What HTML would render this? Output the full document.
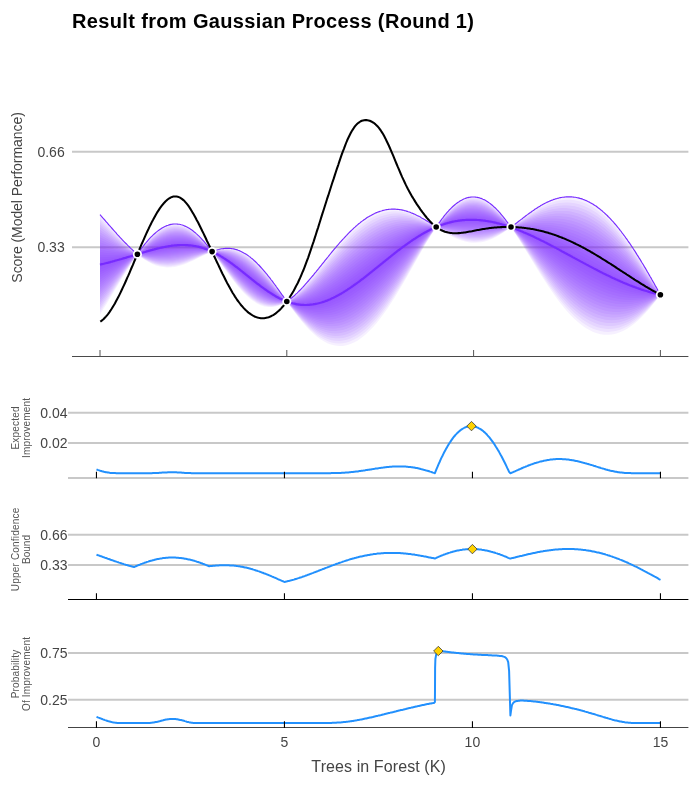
<!DOCTYPE html>
<html><head><meta charset="utf-8"><title>Result from Gaussian Process (Round 1)</title>
<style>html,body{margin:0;padding:0;background:#fff}body{width:700px;height:789px;position:relative;overflow:hidden}</style></head>
<body>
<svg width="700" height="789" viewBox="0 0 700 789" style="position:absolute;left:0;top:0">
<rect width="700" height="789" fill="#fff"/>
<line x1="72" x2="688.4" y1="151.8" y2="151.8" stroke="#c8c8c8" stroke-width="2"/>
<line x1="72" x2="688.4" y1="247.3" y2="247.3" stroke="#c8c8c8" stroke-width="2"/>
<g fill="#7e2eff" fill-opacity="0.069">
<path d="M100.0,262.2L103.7,261.5L107.5,260.8L111.2,260.1L114.9,259.4L118.7,258.6L122.4,257.7L126.2,256.9L129.9,256.0L133.6,255.1L137.4,254.2L141.1,252.9L144.8,251.6L148.6,250.3L152.3,249.2L156.0,248.1L159.8,247.0L163.5,246.2L167.2,245.4L171.0,244.8L174.7,244.4L178.5,244.1L182.2,244.0L185.9,244.1L189.7,244.5L193.4,245.1L197.1,245.9L200.9,247.0L204.6,248.3L208.3,249.8L212.1,251.6L215.8,253.3L219.6,255.2L223.3,257.3L227.0,259.7L230.8,262.1L234.5,264.8L238.2,267.6L242.0,270.4L245.7,273.4L249.4,276.3L253.2,279.3L256.9,282.3L260.6,285.2L264.4,288.0L268.1,290.7L271.9,293.3L275.6,295.6L279.3,297.8L283.1,299.8L286.8,301.5L290.5,302.6L294.3,303.3L298.0,303.8L301.7,304.0L305.5,303.9L309.2,303.6L313.0,302.9L316.7,302.1L320.4,300.9L324.2,299.6L327.9,298.0L331.6,296.3L335.4,294.3L339.1,292.2L342.8,289.9L346.6,287.5L350.3,285.0L354.0,282.3L357.8,279.6L361.5,276.8L365.3,273.9L369.0,271.0L372.7,268.1L376.5,265.2L380.2,262.2L383.9,259.3L387.7,256.4L391.4,253.5L395.1,250.7L398.9,248.0L402.6,245.3L406.4,242.8L410.1,240.3L413.8,238.0L417.6,235.8L421.3,233.7L425.0,231.8L428.8,230.1L432.5,228.5L436.2,227.0L440.0,225.3L443.7,223.8L447.4,222.5L451.2,221.4L454.9,220.5L458.7,219.7L462.4,219.2L466.1,218.8L469.9,218.7L473.6,218.7L477.3,218.8L481.1,219.2L484.8,219.7L488.5,220.4L492.3,221.2L496.0,222.1L499.8,223.2L503.5,224.4L507.2,225.8L511.3,227.3L514.7,228.4L518.4,229.6L522.2,230.9L525.9,232.3L529.6,233.7L533.4,235.3L537.1,236.8L540.8,238.5L544.6,240.1L548.3,241.9L552.1,243.7L555.8,245.5L559.5,247.3L563.3,249.2L567.0,251.1L570.7,253.1L574.5,255.0L578.2,257.0L581.9,259.0L585.7,260.9L589.4,262.9L593.2,264.9L596.9,266.9L600.6,268.8L604.4,270.8L608.1,272.7L611.8,274.6L615.6,276.4L619.3,278.3L623.0,280.0L626.8,281.8L630.5,283.5L634.2,285.1L638.0,286.7L641.7,288.2L645.5,289.6L649.2,291.0L652.9,292.3L656.7,293.6L660.4,294.7L660.4,294.7L656.7,294.1L652.9,293.5L649.2,292.7L645.5,291.9L641.7,290.9L638.0,289.9L634.2,288.8L630.5,287.6L626.8,286.3L623.0,284.9L619.3,283.4L615.6,281.9L611.8,280.3L608.1,278.6L604.4,276.9L600.6,275.1L596.9,273.2L593.2,271.3L589.4,269.3L585.7,267.3L581.9,265.3L578.2,263.2L574.5,261.1L570.7,259.0L567.0,256.9L563.3,254.7L559.5,252.5L555.8,250.4L552.1,248.2L548.3,246.1L544.6,244.0L540.8,241.9L537.1,239.9L533.4,237.9L529.6,235.9L525.9,234.0L522.2,232.2L518.4,230.5L514.7,228.8L511.3,227.4L507.2,226.2L503.5,225.2L499.8,224.3L496.0,223.5L492.3,222.8L488.5,222.3L484.8,221.8L481.1,221.4L477.3,221.1L473.6,221.0L469.9,220.9L466.1,221.0L462.4,221.3L458.7,221.6L454.9,222.1L451.2,222.8L447.4,223.6L443.7,224.6L440.0,225.7L436.2,227.0L432.5,228.9L428.8,230.9L425.0,233.1L421.3,235.4L417.6,237.9L413.8,240.6L410.1,243.3L406.4,246.1L402.6,249.0L398.9,252.0L395.1,255.1L391.4,258.2L387.7,261.3L383.9,264.4L380.2,267.6L376.5,270.7L372.7,273.8L369.0,276.8L365.3,279.7L361.5,282.6L357.8,285.4L354.0,288.1L350.3,290.6L346.6,293.0L342.8,295.3L339.1,297.3L335.4,299.2L331.6,300.9L327.9,302.4L324.2,303.6L320.4,304.6L316.7,305.3L313.0,305.8L309.2,306.1L305.5,306.0L301.7,305.7L298.0,305.0L294.3,304.1L290.5,303.0L286.8,301.5L283.1,300.2L279.3,298.6L275.6,296.7L271.9,294.6L268.1,292.3L264.4,289.8L260.6,287.1L256.9,284.3L253.2,281.4L249.4,278.4L245.7,275.4L242.0,272.4L238.2,269.4L234.5,266.4L230.8,263.6L227.0,260.8L223.3,258.3L219.6,255.8L215.8,253.6L212.1,251.6L208.3,250.1L204.6,248.9L200.9,247.9L197.1,247.1L193.4,246.5L189.7,246.2L185.9,246.0L182.2,246.0L178.5,246.2L174.7,246.5L171.0,246.9L167.2,247.5L163.5,248.2L159.8,248.9L156.0,249.7L152.3,250.6L148.6,251.4L144.8,252.4L141.1,253.3L137.4,254.2L133.6,255.6L129.9,256.9L126.2,258.3L122.4,259.6L118.7,261.0L114.9,262.3L111.2,263.5L107.5,264.8L103.7,266.0L100.0,267.2Z"/>
<path d="M100.0,259.7L103.7,259.3L107.5,258.9L111.2,258.4L114.9,257.9L118.7,257.4L122.4,256.8L126.2,256.2L129.9,255.6L133.6,254.9L137.4,254.2L141.1,252.7L144.8,251.2L148.6,249.8L152.3,248.4L156.0,247.2L159.8,246.1L163.5,245.2L167.2,244.4L171.0,243.7L174.7,243.3L178.5,243.0L182.2,243.0L185.9,243.2L189.7,243.7L193.4,244.3L197.1,245.3L200.9,246.5L204.6,247.9L208.3,249.7L212.1,251.6L215.8,253.1L219.6,254.9L223.3,256.9L227.0,259.1L230.8,261.4L234.5,264.0L238.2,266.6L242.0,269.4L245.7,272.3L249.4,275.3L253.2,278.3L256.9,281.3L260.6,284.2L264.4,287.1L268.1,289.9L271.9,292.6L275.6,295.1L279.3,297.5L283.1,299.6L286.8,301.5L290.5,302.4L294.3,302.9L298.0,303.2L301.7,303.2L305.5,302.9L309.2,302.3L313.0,301.5L316.7,300.4L320.4,299.1L324.2,297.6L327.9,295.9L331.6,294.0L335.4,291.9L339.1,289.6L342.8,287.3L346.6,284.8L350.3,282.2L354.0,279.5L357.8,276.7L361.5,273.9L365.3,271.0L369.0,268.2L372.7,265.3L376.5,262.4L380.2,259.5L383.9,256.7L387.7,253.9L391.4,251.2L395.1,248.5L398.9,246.0L402.6,243.5L406.4,241.1L410.1,238.9L413.8,236.7L417.6,234.8L421.3,232.9L425.0,231.2L428.8,229.6L432.5,228.2L436.2,227.0L440.0,225.1L443.7,223.4L447.4,222.0L451.2,220.7L454.9,219.6L458.7,218.8L462.4,218.2L466.1,217.8L469.9,217.5L473.6,217.5L477.3,217.7L481.1,218.1L484.8,218.7L488.5,219.4L492.3,220.3L496.0,221.4L499.8,222.7L503.5,224.1L507.2,225.6L511.3,227.3L514.7,228.2L518.4,229.2L522.2,230.3L525.9,231.4L529.6,232.7L533.4,233.9L537.1,235.3L540.8,236.7L544.6,238.2L548.3,239.8L552.1,241.4L555.8,243.0L559.5,244.7L563.3,246.5L567.0,248.3L570.7,250.1L574.5,252.0L578.2,253.9L581.9,255.8L585.7,257.8L589.4,259.7L593.2,261.7L596.9,263.7L600.6,265.7L604.4,267.7L608.1,269.7L611.8,271.7L615.6,273.7L619.3,275.7L623.0,277.6L626.8,279.5L630.5,281.4L634.2,283.3L638.0,285.1L641.7,286.8L645.5,288.5L649.2,290.2L652.9,291.8L656.7,293.3L660.4,294.7L660.4,294.7L656.7,294.4L652.9,294.1L649.2,293.6L645.5,293.0L641.7,292.3L638.0,291.5L634.2,290.6L630.5,289.6L626.8,288.5L623.0,287.3L619.3,286.0L615.6,284.6L611.8,283.1L608.1,281.6L604.4,279.9L600.6,278.2L596.9,276.4L593.2,274.5L589.4,272.5L585.7,270.5L581.9,268.4L578.2,266.3L574.5,264.2L570.7,262.0L567.0,259.7L563.3,257.4L559.5,255.2L555.8,252.8L552.1,250.5L548.3,248.2L544.6,245.9L540.8,243.7L537.1,241.4L533.4,239.2L529.6,237.0L525.9,234.9L522.2,232.9L518.4,230.9L514.7,229.0L511.3,227.4L507.2,226.4L503.5,225.6L499.8,224.9L496.0,224.2L492.3,223.7L488.5,223.2L484.8,222.8L481.1,222.5L477.3,222.2L473.6,222.1L469.9,222.1L466.1,222.1L462.4,222.3L458.7,222.6L454.9,223.0L451.2,223.5L447.4,224.2L443.7,225.0L440.0,225.9L436.2,227.0L432.5,229.1L428.8,231.3L425.0,233.7L421.3,236.3L417.6,239.0L413.8,241.8L410.1,244.8L406.4,247.8L402.6,250.9L398.9,254.1L395.1,257.3L391.4,260.5L387.7,263.8L383.9,267.0L380.2,270.3L376.5,273.4L372.7,276.6L369.0,279.7L365.3,282.6L361.5,285.5L357.8,288.3L354.0,290.9L350.3,293.4L346.6,295.8L342.8,297.9L339.1,299.9L335.4,301.6L331.6,303.2L327.9,304.5L324.2,305.6L320.4,306.4L316.7,307.0L313.0,307.3L309.2,307.3L305.5,307.0L301.7,306.5L298.0,305.7L294.3,304.5L290.5,303.2L286.8,301.5L283.1,300.3L279.3,298.9L275.6,297.2L271.9,295.2L268.1,293.0L264.4,290.6L260.6,288.0L256.9,285.3L253.2,282.4L249.4,279.4L245.7,276.4L242.0,273.3L238.2,270.3L234.5,267.3L230.8,264.3L227.0,261.4L223.3,258.7L219.6,256.2L215.8,253.8L212.1,251.6L208.3,250.3L204.6,249.2L200.9,248.4L197.1,247.7L193.4,247.3L189.7,247.0L185.9,246.9L182.2,247.0L178.5,247.2L174.7,247.6L171.0,248.0L167.2,248.6L163.5,249.2L159.8,249.8L156.0,250.5L152.3,251.3L148.6,252.0L144.8,252.7L141.1,253.5L137.4,254.2L133.6,255.8L129.9,257.4L126.2,259.0L122.4,260.6L118.7,262.1L114.9,263.7L111.2,265.3L107.5,266.8L103.7,268.2L100.0,269.7Z"/>
<path d="M100.0,257.2L103.7,257.0L107.5,256.9L111.2,256.7L114.9,256.4L118.7,256.2L122.4,255.9L126.2,255.5L129.9,255.1L133.6,254.7L137.4,254.2L141.1,252.5L144.8,250.8L148.6,249.2L152.3,247.7L156.0,246.4L159.8,245.2L163.5,244.2L167.2,243.3L171.0,242.7L174.7,242.2L178.5,242.0L182.2,242.0L185.9,242.3L189.7,242.8L193.4,243.6L197.1,244.7L200.9,246.0L204.6,247.6L208.3,249.5L212.1,251.6L215.8,253.0L219.6,254.6L223.3,256.4L227.0,258.5L230.8,260.7L234.5,263.1L238.2,265.7L242.0,268.5L245.7,271.3L249.4,274.3L253.2,277.2L256.9,280.3L260.6,283.3L264.4,286.2L268.1,289.1L271.9,291.9L275.6,294.6L279.3,297.1L283.1,299.4L286.8,301.5L290.5,302.2L294.3,302.5L298.0,302.6L301.7,302.4L305.5,301.9L309.2,301.1L313.0,300.1L316.7,298.8L320.4,297.3L324.2,295.6L327.9,293.7L331.6,291.6L335.4,289.4L339.1,287.1L342.8,284.6L346.6,282.0L350.3,279.3L354.0,276.6L357.8,273.8L361.5,271.0L365.3,268.1L369.0,265.3L372.7,262.4L376.5,259.6L380.2,256.8L383.9,254.1L387.7,251.4L391.4,248.8L395.1,246.3L398.9,243.9L402.6,241.6L406.4,239.4L410.1,237.4L413.8,235.5L417.6,233.7L421.3,232.1L425.0,230.6L428.8,229.2L432.5,228.0L436.2,227.0L440.0,224.9L443.7,223.1L447.4,221.4L451.2,220.0L454.9,218.8L458.7,217.9L462.4,217.1L466.1,216.7L469.9,216.4L473.6,216.4L477.3,216.6L481.1,217.0L484.8,217.6L488.5,218.5L492.3,219.5L496.0,220.7L499.8,222.1L503.5,223.7L507.2,225.4L511.3,227.3L514.7,228.0L518.4,228.8L522.2,229.6L525.9,230.6L529.6,231.6L533.4,232.6L537.1,233.8L540.8,235.0L544.6,236.3L548.3,237.7L552.1,239.1L555.8,240.6L559.5,242.1L563.3,243.7L567.0,245.4L570.7,247.2L574.5,248.9L578.2,250.8L581.9,252.6L585.7,254.6L589.4,256.5L593.2,258.5L596.9,260.6L600.6,262.6L604.4,264.7L608.1,266.8L611.8,268.9L615.6,271.0L619.3,273.1L623.0,275.2L626.8,277.3L630.5,279.4L634.2,281.4L638.0,283.5L641.7,285.5L645.5,287.4L649.2,289.3L652.9,291.2L656.7,293.0L660.4,294.7L660.4,294.7L656.7,294.7L652.9,294.6L649.2,294.4L645.5,294.1L641.7,293.7L638.0,293.1L634.2,292.5L630.5,291.7L626.8,290.8L623.0,289.7L619.3,288.6L615.6,287.3L611.8,286.0L608.1,284.5L604.4,283.0L600.6,281.3L596.9,279.5L593.2,277.7L589.4,275.7L585.7,273.7L581.9,271.6L578.2,269.4L574.5,267.2L570.7,264.9L567.0,262.6L563.3,260.2L559.5,257.8L555.8,255.3L552.1,252.8L548.3,250.3L544.6,247.9L540.8,245.4L537.1,242.9L533.4,240.5L529.6,238.1L525.9,235.8L522.2,233.5L518.4,231.3L514.7,229.2L511.3,227.4L507.2,226.6L503.5,226.0L499.8,225.4L496.0,225.0L492.3,224.5L488.5,224.1L484.8,223.8L481.1,223.6L477.3,223.4L473.6,223.2L469.9,223.2L466.1,223.2L462.4,223.3L458.7,223.5L454.9,223.8L451.2,224.2L447.4,224.7L443.7,225.3L440.0,226.1L436.2,227.0L432.5,229.3L428.8,231.7L425.0,234.4L421.3,237.1L417.6,240.1L413.8,243.1L410.1,246.2L406.4,249.5L402.6,252.8L398.9,256.1L395.1,259.5L391.4,262.9L387.7,266.2L383.9,269.6L380.2,272.9L376.5,276.2L372.7,279.4L369.0,282.5L365.3,285.5L361.5,288.4L357.8,291.2L354.0,293.8L350.3,296.2L346.6,298.5L342.8,300.6L339.1,302.4L335.4,304.1L331.6,305.5L327.9,306.7L324.2,307.6L320.4,308.2L316.7,308.6L313.0,308.7L309.2,308.5L305.5,308.1L301.7,307.3L298.0,306.3L294.3,304.9L290.5,303.4L286.8,301.5L283.1,300.5L279.3,299.3L275.6,297.7L271.9,295.9L268.1,293.8L264.4,291.5L260.6,289.0L256.9,286.3L253.2,283.5L249.4,280.5L245.7,277.4L242.0,274.3L238.2,271.2L234.5,268.1L230.8,265.0L227.0,262.0L223.3,259.2L219.6,256.5L215.8,253.9L212.1,251.6L208.3,250.5L204.6,249.5L200.9,248.8L197.1,248.3L193.4,248.0L189.7,247.9L185.9,247.9L182.2,248.0L178.5,248.3L174.7,248.6L171.0,249.1L167.2,249.6L163.5,250.2L159.8,250.7L156.0,251.4L152.3,252.0L148.6,252.6L144.8,253.1L141.1,253.7L137.4,254.2L133.6,256.0L129.9,257.8L126.2,259.7L122.4,261.5L118.7,263.3L114.9,265.2L111.2,267.0L107.5,268.7L103.7,270.5L100.0,272.2Z"/>
<path d="M100.0,254.7L103.7,254.8L107.5,254.9L111.2,255.0L114.9,255.0L118.7,255.0L122.4,254.9L126.2,254.8L129.9,254.7L133.6,254.5L137.4,254.2L141.1,252.3L144.8,250.4L148.6,248.7L152.3,247.0L156.0,245.6L159.8,244.3L163.5,243.2L167.2,242.3L171.0,241.6L174.7,241.1L178.5,240.9L182.2,241.0L185.9,241.4L189.7,242.0L193.4,242.9L197.1,244.1L200.9,245.6L204.6,247.3L208.3,249.3L212.1,251.6L215.8,252.8L219.6,254.3L223.3,255.9L227.0,257.9L230.8,260.0L234.5,262.3L238.2,264.8L242.0,267.5L245.7,270.3L249.4,273.2L253.2,276.2L256.9,279.3L260.6,282.3L264.4,285.4L268.1,288.4L271.9,291.3L275.6,294.1L279.3,296.7L283.1,299.2L286.8,301.5L290.5,302.0L294.3,302.1L298.0,302.0L301.7,301.5L305.5,300.8L309.2,299.8L313.0,298.6L316.7,297.1L320.4,295.5L324.2,293.6L327.9,291.5L331.6,289.3L335.4,287.0L339.1,284.5L342.8,281.9L346.6,279.3L350.3,276.5L354.0,273.7L357.8,270.9L361.5,268.1L365.3,265.2L369.0,262.4L372.7,259.6L376.5,256.9L380.2,254.2L383.9,251.5L387.7,249.0L391.4,246.5L395.1,244.1L398.9,241.9L402.6,239.8L406.4,237.8L410.1,235.9L413.8,234.2L417.6,232.6L421.3,231.2L425.0,229.9L428.8,228.8L432.5,227.8L436.2,227.0L440.0,224.7L443.7,222.7L447.4,220.9L451.2,219.3L454.9,218.0L458.7,216.9L462.4,216.1L466.1,215.6L469.9,215.3L473.6,215.2L477.3,215.5L481.1,215.9L484.8,216.6L488.5,217.5L492.3,218.7L496.0,220.0L499.8,221.6L503.5,223.3L507.2,225.2L511.3,227.3L514.7,227.8L518.4,228.3L522.2,229.0L525.9,229.7L529.6,230.5L533.4,231.3L537.1,232.3L540.8,233.3L544.6,234.4L548.3,235.5L552.1,236.8L555.8,238.1L559.5,239.5L563.3,241.0L567.0,242.6L570.7,244.2L574.5,245.9L578.2,247.7L581.9,249.5L585.7,251.4L589.4,253.3L593.2,255.3L596.9,257.4L600.6,259.5L604.4,261.6L608.1,263.8L611.8,266.0L615.6,268.2L619.3,270.5L623.0,272.8L626.8,275.0L630.5,277.3L634.2,279.6L638.0,281.8L641.7,284.1L645.5,286.3L649.2,288.5L652.9,290.6L656.7,292.7L660.4,294.7L660.4,294.7L656.7,295.0L652.9,295.2L649.2,295.3L645.5,295.2L641.7,295.0L638.0,294.7L634.2,294.3L630.5,293.7L626.8,293.0L623.0,292.2L619.3,291.2L615.6,290.1L611.8,288.8L608.1,287.5L604.4,286.0L600.6,284.4L596.9,282.7L593.2,280.9L589.4,278.9L585.7,276.9L581.9,274.8L578.2,272.5L574.5,270.2L570.7,267.9L567.0,265.4L563.3,262.9L559.5,260.4L555.8,257.8L552.1,255.1L548.3,252.5L544.6,249.8L540.8,247.1L537.1,244.4L533.4,241.8L529.6,239.2L525.9,236.6L522.2,234.1L518.4,231.7L514.7,229.4L511.3,227.4L507.2,226.8L503.5,226.4L499.8,226.0L496.0,225.7L492.3,225.4L488.5,225.1L484.8,224.9L481.1,224.7L477.3,224.5L473.6,224.4L469.9,224.3L466.1,224.3L462.4,224.3L458.7,224.4L454.9,224.6L451.2,224.9L447.4,225.3L443.7,225.7L440.0,226.3L436.2,227.0L432.5,229.5L428.8,232.1L425.0,235.0L421.3,238.0L417.6,241.1L413.8,244.4L410.1,247.7L406.4,251.1L402.6,254.6L398.9,258.1L395.1,261.7L391.4,265.2L387.7,268.7L383.9,272.2L380.2,275.6L376.5,279.0L372.7,282.2L369.0,285.4L365.3,288.4L361.5,291.3L357.8,294.1L354.0,296.7L350.3,299.1L346.6,301.3L342.8,303.2L339.1,305.0L335.4,306.5L331.6,307.8L327.9,308.8L324.2,309.6L320.4,310.1L316.7,310.3L313.0,310.2L309.2,309.8L305.5,309.1L301.7,308.1L298.0,306.9L294.3,305.3L290.5,303.5L286.8,301.5L283.1,300.7L279.3,299.6L275.6,298.2L271.9,296.6L268.1,294.6L264.4,292.4L260.6,290.0L256.9,287.3L253.2,284.5L249.4,281.5L245.7,278.5L242.0,275.3L238.2,272.1L234.5,268.9L230.8,265.7L227.0,262.6L223.3,259.6L219.6,256.8L215.8,254.1L212.1,251.6L208.3,250.6L204.6,249.8L200.9,249.3L197.1,248.9L193.4,248.7L189.7,248.7L185.9,248.8L182.2,249.0L178.5,249.3L174.7,249.7L171.0,250.2L167.2,250.6L163.5,251.2L159.8,251.7L156.0,252.2L152.3,252.7L148.6,253.1L144.8,253.5L141.1,253.9L137.4,254.2L133.6,256.2L129.9,258.3L126.2,260.3L122.4,262.4L118.7,264.5L114.9,266.6L111.2,268.7L107.5,270.7L103.7,272.7L100.0,274.7Z"/>
<path d="M100.0,252.2L103.7,252.6L107.5,252.9L111.2,253.2L114.9,253.5L118.7,253.8L122.4,254.0L126.2,254.1L129.9,254.2L133.6,254.2L137.4,254.2L141.1,252.1L144.8,250.0L148.6,248.1L152.3,246.3L156.0,244.7L159.8,243.4L163.5,242.2L167.2,241.2L171.0,240.5L174.7,240.1L178.5,239.9L182.2,240.0L185.9,240.4L189.7,241.1L193.4,242.2L197.1,243.5L200.9,245.1L204.6,247.0L208.3,249.2L212.1,251.6L215.8,252.7L219.6,254.0L223.3,255.5L227.0,257.3L230.8,259.3L234.5,261.5L238.2,263.9L242.0,266.5L245.7,269.3L249.4,272.2L253.2,275.2L256.9,278.2L260.6,281.4L264.4,284.5L268.1,287.6L271.9,290.6L275.6,293.6L279.3,296.4L283.1,299.0L286.8,301.5L290.5,301.8L294.3,301.7L298.0,301.4L301.7,300.7L305.5,299.8L309.2,298.6L313.0,297.2L316.7,295.5L320.4,293.6L324.2,291.6L327.9,289.4L331.6,287.0L335.4,284.5L339.1,281.9L342.8,279.3L346.6,276.5L350.3,273.7L354.0,270.9L357.8,268.0L361.5,265.2L365.3,262.3L369.0,259.5L372.7,256.8L376.5,254.1L380.2,251.5L383.9,248.9L387.7,246.5L391.4,244.2L395.1,242.0L398.9,239.9L402.6,237.9L406.4,236.1L410.1,234.4L413.8,232.9L417.6,231.6L421.3,230.4L425.0,229.3L428.8,228.4L432.5,227.6L436.2,227.0L440.0,224.5L443.7,222.3L447.4,220.3L451.2,218.6L454.9,217.2L458.7,216.0L462.4,215.1L466.1,214.5L469.9,214.2L473.6,214.1L477.3,214.3L481.1,214.8L484.8,215.6L488.5,216.6L492.3,217.8L496.0,219.3L499.8,221.0L503.5,222.9L507.2,225.0L511.3,227.3L514.7,227.6L518.4,227.9L522.2,228.3L525.9,228.8L529.6,229.4L533.4,230.0L537.1,230.7L540.8,231.5L544.6,232.4L548.3,233.4L552.1,234.5L555.8,235.7L559.5,236.9L563.3,238.3L567.0,239.7L570.7,241.2L574.5,242.8L578.2,244.5L581.9,246.3L585.7,248.2L589.4,250.1L593.2,252.1L596.9,254.2L600.6,256.4L604.4,258.6L608.1,260.8L611.8,263.2L615.6,265.5L619.3,267.9L623.0,270.3L626.8,272.8L630.5,275.3L634.2,277.8L638.0,280.2L641.7,282.7L645.5,285.2L649.2,287.6L652.9,290.0L656.7,292.4L660.4,294.7L660.4,294.7L656.7,295.3L652.9,295.8L649.2,296.1L645.5,296.3L641.7,296.4L638.0,296.3L634.2,296.1L630.5,295.8L626.8,295.2L623.0,294.6L619.3,293.8L615.6,292.8L611.8,291.7L608.1,290.4L604.4,289.0L600.6,287.5L596.9,285.8L593.2,284.0L589.4,282.1L585.7,280.1L581.9,277.9L578.2,275.7L574.5,273.3L570.7,270.8L567.0,268.3L563.3,265.7L559.5,263.0L555.8,260.2L552.1,257.4L548.3,254.6L544.6,251.7L540.8,248.8L537.1,246.0L533.4,243.1L529.6,240.3L525.9,237.5L522.2,234.8L518.4,232.2L514.7,229.6L511.3,227.5L507.2,227.0L503.5,226.8L499.8,226.5L496.0,226.4L492.3,226.2L488.5,226.0L484.8,225.9L481.1,225.8L477.3,225.6L473.6,225.5L469.9,225.4L466.1,225.4L462.4,225.4L458.7,225.4L454.9,225.5L451.2,225.6L447.4,225.8L443.7,226.1L440.0,226.5L436.2,227.0L432.5,229.7L428.8,232.6L425.0,235.6L421.3,238.8L417.6,242.2L413.8,245.6L410.1,249.2L406.4,252.8L402.6,256.5L398.9,260.1L395.1,263.8L391.4,267.5L387.7,271.2L383.9,274.8L380.2,278.3L376.5,281.7L372.7,285.1L369.0,288.3L365.3,291.3L361.5,294.2L357.8,297.0L354.0,299.5L350.3,301.9L346.6,304.0L342.8,305.9L339.1,307.6L335.4,309.0L331.6,310.1L327.9,311.0L324.2,311.6L320.4,311.9L316.7,311.9L313.0,311.6L309.2,311.0L305.5,310.1L301.7,309.0L298.0,307.5L294.3,305.8L290.5,303.7L286.8,301.5L283.1,300.9L279.3,300.0L275.6,298.8L271.9,297.2L268.1,295.4L264.4,293.3L260.6,290.9L256.9,288.3L253.2,285.5L249.4,282.6L245.7,279.5L242.0,276.3L238.2,273.0L234.5,269.7L230.8,266.5L227.0,263.2L223.3,260.1L219.6,257.1L215.8,254.3L212.1,251.6L208.3,250.8L204.6,250.2L200.9,249.8L197.1,249.5L193.4,249.5L189.7,249.5L185.9,249.7L182.2,250.0L178.5,250.4L174.7,250.8L171.0,251.2L167.2,251.7L163.5,252.2L159.8,252.6L156.0,253.0L152.3,253.4L148.6,253.7L144.8,253.9L141.1,254.1L137.4,254.2L133.6,256.4L129.9,258.7L126.2,261.0L122.4,263.4L118.7,265.7L114.9,268.1L111.2,270.4L107.5,272.7L103.7,275.0L100.0,277.2Z"/>
<path d="M100.0,249.7L103.7,250.3L107.5,250.9L111.2,251.5L114.9,252.1L118.7,252.6L122.4,253.0L126.2,253.4L129.9,253.8L133.6,254.0L137.4,254.2L141.1,251.9L144.8,249.6L148.6,247.5L152.3,245.6L156.0,243.9L159.8,242.4L163.5,241.2L167.2,240.2L171.0,239.4L174.7,239.0L178.5,238.8L182.2,239.0L185.9,239.5L189.7,240.3L193.4,241.4L197.1,242.9L200.9,244.6L204.6,246.7L208.3,249.0L212.1,251.6L215.8,252.5L219.6,253.6L223.3,255.0L227.0,256.7L230.8,258.5L234.5,260.7L238.2,263.0L242.0,265.5L245.7,268.3L249.4,271.1L253.2,274.1L256.9,277.2L260.6,280.4L264.4,283.6L268.1,286.8L271.9,290.0L275.6,293.0L279.3,296.0L283.1,298.8L286.8,301.5L290.5,301.6L294.3,301.3L298.0,300.7L301.7,299.9L305.5,298.7L309.2,297.4L313.0,295.7L316.7,293.9L320.4,291.8L324.2,289.6L327.9,287.2L331.6,284.7L335.4,282.1L339.1,279.4L342.8,276.6L346.6,273.8L350.3,270.9L354.0,268.0L357.8,265.1L361.5,262.3L365.3,259.5L369.0,256.7L372.7,254.0L376.5,251.3L380.2,248.8L383.9,246.4L387.7,244.0L391.4,241.8L395.1,239.8L398.9,237.8L402.6,236.1L406.4,234.4L410.1,233.0L413.8,231.7L417.6,230.5L421.3,229.5L425.0,228.7L428.8,228.0L432.5,227.4L436.2,227.0L440.0,224.3L443.7,221.9L447.4,219.8L451.2,217.9L454.9,216.3L458.7,215.0L462.4,214.1L466.1,213.4L469.9,213.0L473.6,213.0L477.3,213.2L481.1,213.7L484.8,214.5L488.5,215.6L492.3,217.0L496.0,218.6L499.8,220.5L503.5,222.5L507.2,224.8L511.3,227.3L514.7,227.3L518.4,227.5L522.2,227.7L525.9,228.0L529.6,228.3L533.4,228.7L537.1,229.2L540.8,229.8L544.6,230.5L548.3,231.3L552.1,232.2L555.8,233.2L559.5,234.3L563.3,235.5L567.0,236.8L570.7,238.3L574.5,239.8L578.2,241.4L581.9,243.2L585.7,245.0L589.4,246.9L593.2,249.0L596.9,251.1L600.6,253.3L604.4,255.5L608.1,257.9L611.8,260.3L615.6,262.8L619.3,265.3L623.0,267.9L626.8,270.6L630.5,273.2L634.2,275.9L638.0,278.6L641.7,281.3L645.5,284.1L649.2,286.8L652.9,289.4L656.7,292.1L660.4,294.7L660.4,294.7L656.7,295.6L652.9,296.4L649.2,297.0L645.5,297.5L641.7,297.8L638.0,298.0L634.2,298.0L630.5,297.8L626.8,297.5L623.0,297.0L619.3,296.4L615.6,295.5L611.8,294.5L608.1,293.4L604.4,292.1L600.6,290.6L596.9,289.0L593.2,287.2L589.4,285.3L585.7,283.3L581.9,281.1L578.2,278.8L574.5,276.3L570.7,273.8L567.0,271.1L563.3,268.4L559.5,265.6L555.8,262.7L552.1,259.7L548.3,256.7L544.6,253.6L540.8,250.6L537.1,247.5L533.4,244.4L529.6,241.4L525.9,238.4L522.2,235.4L518.4,232.6L514.7,229.9L511.3,227.5L507.2,227.2L503.5,227.1L499.8,227.1L496.0,227.1L492.3,227.0L488.5,227.0L484.8,226.9L481.1,226.8L477.3,226.8L473.6,226.7L469.9,226.6L466.1,226.5L462.4,226.4L458.7,226.3L454.9,226.3L451.2,226.3L447.4,226.3L443.7,226.5L440.0,226.7L436.2,227.0L432.5,229.9L428.8,233.0L425.0,236.3L421.3,239.7L417.6,243.2L413.8,246.9L410.1,250.7L406.4,254.5L402.6,258.3L398.9,262.2L395.1,266.0L391.4,269.9L387.7,273.6L383.9,277.4L380.2,281.0L376.5,284.5L372.7,287.9L369.0,291.1L365.3,294.2L361.5,297.1L357.8,299.9L354.0,302.4L350.3,304.7L346.6,306.8L342.8,308.6L339.1,310.1L335.4,311.4L331.6,312.4L327.9,313.2L324.2,313.6L320.4,313.7L316.7,313.5L313.0,313.1L309.2,312.3L305.5,311.2L301.7,309.8L298.0,308.1L294.3,306.2L290.5,303.9L286.8,301.5L283.1,301.1L279.3,300.4L275.6,299.3L271.9,297.9L268.1,296.2L264.4,294.2L260.6,291.9L256.9,289.3L253.2,286.6L249.4,283.6L245.7,280.5L242.0,277.3L238.2,273.9L234.5,270.6L230.8,267.2L227.0,263.8L223.3,260.6L219.6,257.4L215.8,254.4L212.1,251.6L208.3,250.9L204.6,250.5L200.9,250.2L197.1,250.1L193.4,250.2L189.7,250.4L185.9,250.7L182.2,251.0L178.5,251.4L174.7,251.9L171.0,252.3L167.2,252.7L163.5,253.2L159.8,253.5L156.0,253.8L152.3,254.1L148.6,254.2L144.8,254.3L141.1,254.3L137.4,254.2L133.6,256.6L129.9,259.2L126.2,261.7L122.4,264.3L118.7,266.9L114.9,269.5L111.2,272.1L107.5,274.7L103.7,277.2L100.0,279.7Z"/>
<path d="M100.0,247.2L103.7,248.1L107.5,249.0L111.2,249.8L114.9,250.6L118.7,251.4L122.4,252.1L126.2,252.7L129.9,253.3L133.6,253.8L137.4,254.2L141.1,251.6L144.8,249.2L148.6,247.0L152.3,244.9L156.0,243.1L159.8,241.5L163.5,240.2L167.2,239.1L171.0,238.4L174.7,237.9L178.5,237.8L182.2,238.0L185.9,238.6L189.7,239.5L193.4,240.7L197.1,242.3L200.9,244.2L204.6,246.4L208.3,248.9L212.1,251.6L215.8,252.3L219.6,253.3L223.3,254.6L227.0,256.1L230.8,257.8L234.5,259.8L238.2,262.1L242.0,264.6L245.7,267.2L249.4,270.1L253.2,273.1L256.9,276.2L260.6,279.4L264.4,282.7L268.1,286.0L271.9,289.3L275.6,292.5L279.3,295.7L283.1,298.7L286.8,301.5L290.5,301.4L294.3,300.9L298.0,300.1L301.7,299.1L305.5,297.7L309.2,296.1L313.0,294.3L316.7,292.2L320.4,290.0L324.2,287.6L327.9,285.1L331.6,282.4L335.4,279.7L339.1,276.8L342.8,273.9L346.6,271.0L350.3,268.1L354.0,265.2L357.8,262.2L361.5,259.4L365.3,256.6L369.0,253.8L372.7,251.1L376.5,248.6L380.2,246.1L383.9,243.8L387.7,241.6L391.4,239.5L395.1,237.6L398.9,235.8L402.6,234.2L406.4,232.8L410.1,231.5L413.8,230.4L417.6,229.4L421.3,228.7L425.0,228.0L428.8,227.6L432.5,227.2L436.2,227.0L440.0,224.1L443.7,221.5L447.4,219.2L451.2,217.2L454.9,215.5L458.7,214.1L462.4,213.0L466.1,212.3L469.9,211.9L473.6,211.8L477.3,212.1L481.1,212.6L484.8,213.5L488.5,214.7L492.3,216.2L496.0,217.9L499.8,219.9L503.5,222.1L507.2,224.6L511.3,227.2L514.7,227.1L518.4,227.1L522.2,227.0L525.9,227.1L529.6,227.2L533.4,227.4L537.1,227.7L540.8,228.1L544.6,228.6L548.3,229.2L552.1,229.9L555.8,230.8L559.5,231.7L563.3,232.8L567.0,234.0L570.7,235.3L574.5,236.8L578.2,238.3L581.9,240.0L585.7,241.8L589.4,243.7L593.2,245.8L596.9,247.9L600.6,250.1L604.4,252.5L608.1,254.9L611.8,257.5L615.6,260.1L619.3,262.7L623.0,265.5L626.8,268.3L630.5,271.2L634.2,274.1L638.0,277.0L641.7,280.0L645.5,282.9L649.2,285.9L652.9,288.9L656.7,291.8L660.4,294.7L660.4,294.7L656.7,295.9L652.9,296.9L649.2,297.8L645.5,298.6L641.7,299.2L638.0,299.6L634.2,299.8L630.5,299.9L626.8,299.7L623.0,299.4L619.3,298.9L615.6,298.3L611.8,297.4L608.1,296.4L604.4,295.1L600.6,293.7L596.9,292.2L593.2,290.4L589.4,288.5L585.7,286.5L581.9,284.2L578.2,281.9L574.5,279.4L570.7,276.8L567.0,274.0L563.3,271.1L559.5,268.2L555.8,265.1L552.1,262.0L548.3,258.8L544.6,255.6L540.8,252.3L537.1,249.0L533.4,245.7L529.6,242.5L525.9,239.2L522.2,236.1L518.4,233.0L514.7,230.1L511.3,227.5L507.2,227.4L503.5,227.5L499.8,227.7L496.0,227.8L492.3,227.9L488.5,227.9L484.8,227.9L481.1,227.9L477.3,227.9L473.6,227.8L469.9,227.7L466.1,227.6L462.4,227.4L458.7,227.3L454.9,227.1L451.2,227.0L447.4,226.9L443.7,226.9L440.0,226.9L436.2,227.0L432.5,230.1L428.8,233.4L425.0,236.9L421.3,240.5L417.6,244.3L413.8,248.2L410.1,252.1L406.4,256.1L402.6,260.2L398.9,264.2L395.1,268.2L391.4,272.2L387.7,276.1L383.9,279.9L380.2,283.7L376.5,287.3L372.7,290.7L369.0,294.0L365.3,297.1L361.5,300.1L357.8,302.8L354.0,305.3L350.3,307.5L346.6,309.5L342.8,311.2L339.1,312.7L335.4,313.9L331.6,314.7L327.9,315.3L324.2,315.6L320.4,315.5L316.7,315.2L313.0,314.5L309.2,313.5L305.5,312.2L301.7,310.6L298.0,308.7L294.3,306.6L290.5,304.1L286.8,301.5L283.1,301.3L279.3,300.7L275.6,299.8L271.9,298.6L268.1,297.0L264.4,295.0L260.6,292.8L256.9,290.3L253.2,287.6L249.4,284.6L245.7,281.5L242.0,278.2L238.2,274.8L234.5,271.4L230.8,267.9L227.0,264.4L223.3,261.0L219.6,257.7L215.8,254.6L212.1,251.6L208.3,251.1L204.6,250.8L200.9,250.7L197.1,250.7L193.4,250.9L189.7,251.2L185.9,251.6L182.2,252.0L178.5,252.5L174.7,252.9L171.0,253.4L167.2,253.8L163.5,254.2L159.8,254.4L156.0,254.7L152.3,254.8L148.6,254.8L144.8,254.7L141.1,254.5L137.4,254.2L133.6,256.9L129.9,259.6L126.2,262.4L122.4,265.3L118.7,268.1L114.9,271.0L111.2,273.8L107.5,276.7L103.7,279.4L100.0,282.2Z"/>
<path d="M100.0,244.7L103.7,245.8L107.5,247.0L111.2,248.1L114.9,249.2L118.7,250.2L122.4,251.2L126.2,252.0L129.9,252.9L133.6,253.6L137.4,254.2L141.1,251.4L144.8,248.8L148.6,246.4L152.3,244.2L156.0,242.3L159.8,240.6L163.5,239.2L167.2,238.1L171.0,237.3L174.7,236.8L178.5,236.8L182.2,237.0L185.9,237.6L189.7,238.6L193.4,240.0L197.1,241.7L200.9,243.7L204.6,246.0L208.3,248.7L212.1,251.6L215.8,252.2L219.6,253.0L223.3,254.1L227.0,255.5L230.8,257.1L234.5,259.0L238.2,261.2L242.0,263.6L245.7,266.2L249.4,269.1L253.2,272.1L256.9,275.2L260.6,278.5L264.4,281.8L268.1,285.2L271.9,288.6L275.6,292.0L279.3,295.3L283.1,298.5L286.8,301.5L290.5,301.2L294.3,300.5L298.0,299.5L301.7,298.2L305.5,296.7L309.2,294.9L313.0,292.8L316.7,290.6L320.4,288.2L324.2,285.6L327.9,282.9L331.6,280.1L335.4,277.2L339.1,274.3L342.8,271.3L346.6,268.3L350.3,265.3L354.0,262.3L357.8,259.3L361.5,256.5L365.3,253.7L369.0,250.9L372.7,248.3L376.5,245.8L380.2,243.4L383.9,241.2L387.7,239.1L391.4,237.2L395.1,235.4L398.9,233.8L402.6,232.4L406.4,231.1L410.1,230.0L413.8,229.1L417.6,228.4L421.3,227.8L425.0,227.4L428.8,227.1L432.5,227.0L436.2,227.0L440.0,223.9L443.7,221.2L447.4,218.7L451.2,216.5L454.9,214.7L458.7,213.2L462.4,212.0L466.1,211.2L469.9,210.8L473.6,210.7L477.3,210.9L481.1,211.5L484.8,212.5L488.5,213.7L492.3,215.3L496.0,217.2L499.8,219.4L503.5,221.8L507.2,224.4L511.3,227.2L514.7,226.9L518.4,226.6L522.2,226.4L525.9,226.2L529.6,226.1L533.4,226.1L537.1,226.2L540.8,226.4L544.6,226.7L548.3,227.1L552.1,227.6L555.8,228.3L559.5,229.1L563.3,230.0L567.0,231.1L570.7,232.4L574.5,233.7L578.2,235.2L581.9,236.9L585.7,238.6L589.4,240.5L593.2,242.6L596.9,244.7L600.6,247.0L604.4,249.4L608.1,252.0L611.8,254.6L615.6,257.3L619.3,260.2L623.0,263.1L626.8,266.1L630.5,269.1L634.2,272.2L638.0,275.4L641.7,278.6L645.5,281.8L649.2,285.1L652.9,288.3L656.7,291.5L660.4,294.7L660.4,294.7L656.7,296.2L652.9,297.5L649.2,298.7L645.5,299.7L641.7,300.5L638.0,301.2L634.2,301.6L630.5,301.9L626.8,302.0L623.0,301.9L619.3,301.5L615.6,301.0L611.8,300.3L608.1,299.3L604.4,298.2L600.6,296.9L596.9,295.3L593.2,293.6L589.4,291.7L585.7,289.6L581.9,287.4L578.2,285.0L574.5,282.4L570.7,279.7L567.0,276.9L563.3,273.9L559.5,270.8L555.8,267.6L552.1,264.3L548.3,260.9L544.6,257.5L540.8,254.0L537.1,250.5L533.4,247.0L529.6,243.5L525.9,240.1L522.2,236.7L518.4,233.4L514.7,230.3L511.3,227.5L507.2,227.6L503.5,227.9L499.8,228.2L496.0,228.5L492.3,228.7L488.5,228.9L484.8,229.0L481.1,229.0L477.3,229.0L473.6,229.0L469.9,228.8L466.1,228.7L462.4,228.4L458.7,228.2L454.9,227.9L451.2,227.7L447.4,227.4L443.7,227.2L440.0,227.1L436.2,227.0L432.5,230.3L428.8,233.8L425.0,237.5L421.3,241.4L417.6,245.4L413.8,249.4L410.1,253.6L406.4,257.8L402.6,262.0L398.9,266.2L395.1,270.4L391.4,274.5L387.7,278.6L383.9,282.5L380.2,286.3L376.5,290.0L372.7,293.5L369.0,296.9L365.3,300.0L361.5,303.0L357.8,305.7L354.0,308.1L350.3,310.3L346.6,312.3L342.8,313.9L339.1,315.3L335.4,316.3L331.6,317.1L327.9,317.5L324.2,317.6L320.4,317.4L316.7,316.8L313.0,315.9L309.2,314.8L305.5,313.2L301.7,311.4L298.0,309.3L294.3,307.0L290.5,304.3L286.8,301.5L283.1,301.5L279.3,301.1L275.6,300.3L271.9,299.2L268.1,297.7L264.4,295.9L260.6,293.8L256.9,291.3L253.2,288.6L249.4,285.7L245.7,282.5L242.0,279.2L238.2,275.7L234.5,272.2L230.8,268.6L227.0,265.0L223.3,261.5L219.6,258.0L215.8,254.7L212.1,251.6L208.3,251.3L204.6,251.1L200.9,251.2L197.1,251.3L193.4,251.6L189.7,252.0L185.9,252.5L182.2,253.0L178.5,253.5L174.7,254.0L171.0,254.4L167.2,254.8L163.5,255.2L159.8,255.4L156.0,255.5L152.3,255.5L148.6,255.3L144.8,255.1L141.1,254.7L137.4,254.2L133.6,257.1L129.9,260.1L126.2,263.1L122.4,266.2L118.7,269.3L114.9,272.4L111.2,275.6L107.5,278.6L103.7,281.7L100.0,284.7Z"/>
<path d="M100.0,242.2L103.7,243.6L107.5,245.0L111.2,246.4L114.9,247.7L118.7,249.0L122.4,250.2L126.2,251.4L129.9,252.4L133.6,253.4L137.4,254.2L141.1,251.2L144.8,248.5L148.6,245.9L152.3,243.5L156.0,241.4L159.8,239.7L163.5,238.2L167.2,237.0L171.0,236.2L174.7,235.8L178.5,235.7L182.2,236.0L185.9,236.7L189.7,237.8L193.4,239.2L197.1,241.1L200.9,243.2L204.6,245.7L208.3,248.5L212.1,251.6L215.8,252.0L219.6,252.7L223.3,253.6L227.0,254.9L230.8,256.4L234.5,258.2L238.2,260.3L242.0,262.6L245.7,265.2L249.4,268.0L253.2,271.0L256.9,274.2L260.6,277.5L264.4,281.0L268.1,284.5L271.9,288.0L275.6,291.5L279.3,294.9L283.1,298.3L286.8,301.5L290.5,301.0L294.3,300.1L298.0,298.9L301.7,297.4L305.5,295.6L309.2,293.6L313.0,291.4L316.7,289.0L320.4,286.3L324.2,283.6L327.9,280.7L331.6,277.8L335.4,274.8L339.1,271.7L342.8,268.6L346.6,265.5L350.3,262.5L354.0,259.4L357.8,256.5L361.5,253.6L365.3,250.8L369.0,248.1L372.7,245.5L376.5,243.0L380.2,240.7L383.9,238.6L387.7,236.6L391.4,234.8L395.1,233.2L398.9,231.8L402.6,230.5L406.4,229.4L410.1,228.6L413.8,227.9L417.6,227.3L421.3,227.0L425.0,226.8L428.8,226.7L432.5,226.8L436.2,227.0L440.0,223.8L443.7,220.8L447.4,218.1L451.2,215.8L454.9,213.8L458.7,212.2L462.4,211.0L466.1,210.1L469.9,209.6L473.6,209.5L477.3,209.8L481.1,210.4L484.8,211.4L488.5,212.8L492.3,214.5L496.0,216.5L499.8,218.8L503.5,221.4L507.2,224.2L511.3,227.2L514.7,226.7L518.4,226.2L522.2,225.8L525.9,225.4L529.6,225.0L533.4,224.8L537.1,224.7L540.8,224.6L544.6,224.7L548.3,225.0L552.1,225.3L555.8,225.8L559.5,226.5L563.3,227.3L567.0,228.3L570.7,229.4L574.5,230.7L578.2,232.1L581.9,233.7L585.7,235.4L589.4,237.3L593.2,239.4L596.9,241.6L600.6,243.9L604.4,246.4L608.1,249.0L611.8,251.7L615.6,254.6L619.3,257.6L623.0,260.7L626.8,263.8L630.5,267.1L634.2,270.4L638.0,273.8L641.7,277.2L645.5,280.7L649.2,284.2L652.9,287.7L656.7,291.2L660.4,294.7L660.4,294.7L656.7,296.5L652.9,298.1L649.2,299.5L645.5,300.8L641.7,301.9L638.0,302.8L634.2,303.5L630.5,304.0L626.8,304.2L623.0,304.3L619.3,304.1L615.6,303.7L611.8,303.1L608.1,302.3L604.4,301.2L600.6,300.0L596.9,298.5L593.2,296.8L589.4,294.9L585.7,292.8L581.9,290.6L578.2,288.1L574.5,285.5L570.7,282.7L567.0,279.7L563.3,276.6L559.5,273.4L555.8,270.0L552.1,266.6L548.3,263.0L544.6,259.4L540.8,255.8L537.1,252.1L533.4,248.3L529.6,244.6L525.9,241.0L522.2,237.4L518.4,233.9L514.7,230.5L511.3,227.5L507.2,227.8L503.5,228.3L499.8,228.8L496.0,229.2L492.3,229.5L488.5,229.8L484.8,230.0L481.1,230.1L477.3,230.2L473.6,230.1L469.9,230.0L466.1,229.7L462.4,229.5L458.7,229.1L454.9,228.8L451.2,228.4L447.4,228.0L443.7,227.6L440.0,227.3L436.2,227.0L432.5,230.5L428.8,234.2L425.0,238.1L421.3,242.2L417.6,246.4L413.8,250.7L410.1,255.1L406.4,259.5L402.6,263.9L398.9,268.3L395.1,272.6L391.4,276.9L387.7,281.0L383.9,285.1L380.2,289.0L376.5,292.8L372.7,296.4L369.0,299.8L365.3,302.9L361.5,305.9L357.8,308.6L354.0,311.0L350.3,313.1L346.6,315.0L342.8,316.6L339.1,317.8L335.4,318.8L331.6,319.4L327.9,319.6L324.2,319.6L320.4,319.2L316.7,318.5L313.0,317.4L309.2,316.0L305.5,314.3L301.7,312.3L298.0,310.0L294.3,307.4L290.5,304.5L286.8,301.5L283.1,301.7L279.3,301.5L275.6,300.9L271.9,299.9L268.1,298.5L264.4,296.8L260.6,294.7L256.9,292.3L253.2,289.7L249.4,286.7L245.7,283.5L242.0,280.2L238.2,276.7L234.5,273.0L230.8,269.3L227.0,265.6L223.3,262.0L219.6,258.4L215.8,254.9L212.1,251.6L208.3,251.4L204.6,251.4L200.9,251.6L197.1,251.9L193.4,252.4L189.7,252.9L185.9,253.4L182.2,254.0L178.5,254.6L174.7,255.1L171.0,255.5L167.2,255.9L163.5,256.2L159.8,256.3L156.0,256.3L152.3,256.2L148.6,255.9L144.8,255.5L141.1,254.9L137.4,254.2L133.6,257.3L129.9,260.5L126.2,263.8L122.4,267.1L118.7,270.5L114.9,273.9L111.2,277.3L107.5,280.6L103.7,283.9L100.0,287.2Z"/>
<path d="M100.0,239.7L103.7,241.3L107.5,243.0L111.2,244.7L114.9,246.3L118.7,247.8L122.4,249.3L126.2,250.7L129.9,252.0L133.6,253.1L137.4,254.2L141.1,251.0L144.8,248.1L148.6,245.3L152.3,242.8L156.0,240.6L159.8,238.7L163.5,237.2L167.2,236.0L171.0,235.1L174.7,234.7L178.5,234.7L182.2,235.0L185.9,235.8L189.7,236.9L193.4,238.5L197.1,240.5L200.9,242.8L204.6,245.4L208.3,248.4L212.1,251.6L215.8,251.9L219.6,252.4L223.3,253.2L227.0,254.3L230.8,255.7L234.5,257.4L238.2,259.4L242.0,261.6L245.7,264.2L249.4,267.0L253.2,270.0L256.9,273.2L260.6,276.6L264.4,280.1L268.1,283.7L271.9,287.3L275.6,291.0L279.3,294.6L283.1,298.1L286.8,301.5L290.5,300.8L294.3,299.7L298.0,298.3L301.7,296.6L305.5,294.6L309.2,292.4L313.0,289.9L316.7,287.3L320.4,284.5L324.2,281.6L327.9,278.6L331.6,275.5L335.4,272.3L339.1,269.1L342.8,265.9L346.6,262.8L350.3,259.6L354.0,256.6L357.8,253.6L361.5,250.7L365.3,247.9L369.0,245.2L372.7,242.7L376.5,240.3L380.2,238.1L383.9,236.0L387.7,234.2L391.4,232.5L395.1,231.0L398.9,229.7L402.6,228.7L406.4,227.8L410.1,227.1L413.8,226.6L417.6,226.3L421.3,226.1L425.0,226.1L428.8,226.3L432.5,226.6L436.2,227.0L440.0,223.6L443.7,220.4L447.4,217.6L451.2,215.1L454.9,213.0L458.7,211.3L462.4,210.0L466.1,209.0L469.9,208.5L473.6,208.4L477.3,208.7L481.1,209.4L484.8,210.4L488.5,211.9L492.3,213.7L496.0,215.8L499.8,218.2L503.5,221.0L507.2,224.0L511.3,227.2L514.7,226.5L518.4,225.8L522.2,225.1L525.9,224.5L529.6,223.9L533.4,223.5L537.1,223.1L540.8,222.9L544.6,222.8L548.3,222.8L552.1,223.0L555.8,223.4L559.5,223.9L563.3,224.6L567.0,225.4L570.7,226.4L574.5,227.6L578.2,229.0L581.9,230.5L585.7,232.3L589.4,234.1L593.2,236.2L596.9,238.4L600.6,240.8L604.4,243.4L608.1,246.1L611.8,248.9L615.6,251.9L619.3,255.0L623.0,258.2L626.8,261.6L630.5,265.0L634.2,268.6L638.0,272.2L641.7,275.9L645.5,279.6L649.2,283.4L652.9,287.1L656.7,290.9L660.4,294.7L660.4,294.7L656.7,296.8L652.9,298.7L649.2,300.4L645.5,301.9L641.7,303.3L638.0,304.4L634.2,305.3L630.5,306.0L626.8,306.5L623.0,306.7L619.3,306.7L615.6,306.4L611.8,306.0L608.1,305.2L604.4,304.3L600.6,303.1L596.9,301.7L593.2,300.0L589.4,298.1L585.7,296.0L581.9,293.7L578.2,291.2L574.5,288.5L570.7,285.6L567.0,282.6L563.3,279.4L559.5,276.0L555.8,272.5L552.1,268.9L548.3,265.2L544.6,261.3L540.8,257.5L537.1,253.6L533.4,249.6L529.6,245.7L525.9,241.8L522.2,238.0L518.4,234.3L514.7,230.7L511.3,227.6L507.2,228.0L503.5,228.7L499.8,229.3L496.0,229.9L492.3,230.4L488.5,230.8L484.8,231.0L481.1,231.2L477.3,231.3L473.6,231.2L469.9,231.1L466.1,230.8L462.4,230.5L458.7,230.1L454.9,229.6L451.2,229.1L447.4,228.5L443.7,228.0L440.0,227.5L436.2,227.0L432.5,230.7L428.8,234.6L425.0,238.8L421.3,243.1L417.6,247.5L413.8,252.0L410.1,256.5L406.4,261.1L402.6,265.7L398.9,270.3L395.1,274.8L391.4,279.2L387.7,283.5L383.9,287.7L380.2,291.7L376.5,295.5L372.7,299.2L369.0,302.6L365.3,305.8L361.5,308.8L357.8,311.5L354.0,313.8L350.3,316.0L346.6,317.8L342.8,319.2L339.1,320.4L335.4,321.2L331.6,321.7L327.9,321.8L324.2,321.6L320.4,321.0L316.7,320.1L313.0,318.8L309.2,317.2L305.5,315.3L301.7,313.1L298.0,310.6L294.3,307.8L290.5,304.7L286.8,301.5L283.1,301.9L279.3,301.8L275.6,301.4L271.9,300.5L268.1,299.3L264.4,297.7L260.6,295.7L256.9,293.4L253.2,290.7L249.4,287.8L245.7,284.6L242.0,281.2L238.2,277.6L234.5,273.9L230.8,270.1L227.0,266.2L223.3,262.4L219.6,258.7L215.8,255.1L212.1,251.6L208.3,251.6L204.6,251.7L200.9,252.1L197.1,252.5L193.4,253.1L189.7,253.7L185.9,254.4L182.2,255.0L178.5,255.6L174.7,256.1L171.0,256.6L167.2,256.9L163.5,257.1L159.8,257.2L156.0,257.1L152.3,256.9L148.6,256.5L144.8,255.9L141.1,255.1L137.4,254.2L133.6,257.5L129.9,261.0L126.2,264.5L122.4,268.1L118.7,271.7L114.9,275.4L111.2,279.0L107.5,282.6L103.7,286.2L100.0,289.7Z"/>
<path d="M100.0,237.2L103.7,239.1L107.5,241.0L111.2,242.9L114.9,244.8L118.7,246.6L122.4,248.3L126.2,250.0L129.9,251.5L133.6,252.9L137.4,254.2L141.1,250.8L144.8,247.7L148.6,244.8L152.3,242.1L156.0,239.8L159.8,237.8L163.5,236.2L167.2,234.9L171.0,234.1L174.7,233.6L178.5,233.6L182.2,234.0L185.9,234.9L189.7,236.1L193.4,237.8L197.1,239.9L200.9,242.3L204.6,245.1L208.3,248.2L212.1,251.6L215.8,251.7L219.6,252.1L223.3,252.7L227.0,253.7L230.8,255.0L234.5,256.5L238.2,258.5L242.0,260.7L245.7,263.2L249.4,265.9L253.2,269.0L256.9,272.2L260.6,275.6L264.4,279.2L268.1,282.9L271.9,286.6L275.6,290.4L279.3,294.2L283.1,297.9L286.8,301.5L290.5,300.6L294.3,299.3L298.0,297.7L301.7,295.8L305.5,293.6L309.2,291.1L313.0,288.5L316.7,285.7L320.4,282.7L324.2,279.6L327.9,276.4L331.6,273.2L335.4,269.9L339.1,266.6L342.8,263.3L346.6,260.0L350.3,256.8L354.0,253.7L357.8,250.7L361.5,247.7L365.3,245.0L369.0,242.3L372.7,239.8L376.5,237.5L380.2,235.4L383.9,233.4L387.7,231.7L391.4,230.2L395.1,228.8L398.9,227.7L402.6,226.8L406.4,226.1L410.1,225.6L413.8,225.3L417.6,225.2L421.3,225.3L425.0,225.5L428.8,225.9L432.5,226.4L436.2,227.0L440.0,223.4L443.7,220.0L447.4,217.0L451.2,214.4L454.9,212.2L458.7,210.3L462.4,208.9L466.1,207.9L469.9,207.4L473.6,207.2L477.3,207.5L481.1,208.3L484.8,209.4L488.5,210.9L492.3,212.8L496.0,215.1L499.8,217.7L503.5,220.6L507.2,223.8L511.3,227.2L514.7,226.3L518.4,225.4L522.2,224.5L525.9,223.6L529.6,222.9L533.4,222.2L537.1,221.6L540.8,221.2L544.6,220.9L548.3,220.7L552.1,220.7L555.8,220.9L559.5,221.3L563.3,221.8L567.0,222.6L570.7,223.5L574.5,224.6L578.2,225.9L581.9,227.4L585.7,229.1L589.4,230.9L593.2,233.0L596.9,235.3L600.6,237.7L604.4,240.3L608.1,243.1L611.8,246.0L615.6,249.2L619.3,252.4L623.0,255.8L626.8,259.3L630.5,263.0L634.2,266.7L638.0,270.6L641.7,274.5L645.5,278.5L649.2,282.5L652.9,286.6L656.7,290.6L660.4,294.7L660.4,294.7L656.7,297.0L652.9,299.2L649.2,301.2L645.5,303.0L641.7,304.6L638.0,306.0L634.2,307.2L630.5,308.1L626.8,308.7L623.0,309.1L619.3,309.3L615.6,309.2L611.8,308.8L608.1,308.2L604.4,307.3L600.6,306.2L596.9,304.8L593.2,303.2L589.4,301.3L585.7,299.2L581.9,296.9L578.2,294.3L574.5,291.6L570.7,288.6L567.0,285.4L563.3,282.1L559.5,278.6L555.8,274.9L552.1,271.2L548.3,267.3L544.6,263.3L540.8,259.2L537.1,255.1L533.4,251.0L529.6,246.8L525.9,242.7L522.2,238.7L518.4,234.7L514.7,230.9L511.3,227.6L507.2,228.2L503.5,229.1L499.8,229.9L496.0,230.6L492.3,231.2L488.5,231.7L484.8,232.1L481.1,232.3L477.3,232.4L473.6,232.4L469.9,232.2L466.1,231.9L462.4,231.5L458.7,231.0L454.9,230.4L451.2,229.8L447.4,229.1L443.7,228.4L440.0,227.7L436.2,227.0L432.5,230.9L428.8,235.1L425.0,239.4L421.3,243.9L417.6,248.5L413.8,253.3L410.1,258.0L406.4,262.8L402.6,267.6L398.9,272.3L395.1,277.0L391.4,281.5L387.7,286.0L383.9,290.3L380.2,294.4L376.5,298.3L372.7,302.0L369.0,305.5L365.3,308.7L361.5,311.7L357.8,314.3L354.0,316.7L350.3,318.8L346.6,320.5L342.8,321.9L339.1,322.9L335.4,323.6L331.6,324.0L327.9,324.0L324.2,323.6L320.4,322.8L316.7,321.7L313.0,320.3L309.2,318.5L305.5,316.4L301.7,313.9L298.0,311.2L294.3,308.2L290.5,304.9L286.8,301.5L283.1,302.0L279.3,302.2L275.6,301.9L271.9,301.2L268.1,300.1L264.4,298.6L260.6,296.6L256.9,294.4L253.2,291.7L249.4,288.8L245.7,285.6L242.0,282.1L238.2,278.5L234.5,274.7L230.8,270.8L227.0,266.8L223.3,262.9L219.6,259.0L215.8,255.2L212.1,251.6L208.3,251.7L204.6,252.1L200.9,252.6L197.1,253.2L193.4,253.8L189.7,254.6L185.9,255.3L182.2,256.0L178.5,256.7L174.7,257.2L171.0,257.7L167.2,258.0L163.5,258.1L159.8,258.1L156.0,258.0L152.3,257.6L148.6,257.0L144.8,256.3L141.1,255.3L137.4,254.2L133.6,257.7L129.9,261.4L126.2,265.2L122.4,269.0L118.7,272.9L114.9,276.8L111.2,280.7L107.5,284.6L103.7,288.4L100.0,292.2Z"/>
<path d="M100.0,234.7L103.7,236.9L107.5,239.1L111.2,241.2L114.9,243.3L118.7,245.4L122.4,247.4L126.2,249.3L129.9,251.1L133.6,252.7L137.4,254.2L141.1,250.6L144.8,247.3L148.6,244.2L152.3,241.4L156.0,239.0L159.8,236.9L163.5,235.2L167.2,233.9L171.0,233.0L174.7,232.6L178.5,232.6L182.2,233.0L185.9,233.9L189.7,235.3L193.4,237.1L197.1,239.2L200.9,241.8L204.6,244.8L208.3,248.1L212.1,251.6L215.8,251.5L219.6,251.7L223.3,252.3L227.0,253.1L230.8,254.2L234.5,255.7L238.2,257.5L242.0,259.7L245.7,262.2L249.4,264.9L253.2,267.9L256.9,271.2L260.6,274.7L264.4,278.3L268.1,282.1L271.9,286.0L275.6,289.9L279.3,293.8L283.1,297.7L286.8,301.5L290.5,300.4L294.3,298.9L298.0,297.1L301.7,294.9L305.5,292.5L309.2,289.9L313.0,287.0L316.7,284.0L320.4,280.9L324.2,277.6L327.9,274.3L331.6,270.9L335.4,267.4L339.1,264.0L342.8,260.6L346.6,257.3L350.3,254.0L354.0,250.8L357.8,247.8L361.5,244.8L365.3,242.1L369.0,239.4L372.7,237.0L376.5,234.8L380.2,232.7L383.9,230.9L387.7,229.2L391.4,227.8L395.1,226.6L398.9,225.7L402.6,224.9L406.4,224.4L410.1,224.1L413.8,224.0L417.6,224.1L421.3,224.4L425.0,224.9L428.8,225.5L432.5,226.2L436.2,227.0L440.0,223.2L443.7,219.6L447.4,216.5L451.2,213.7L454.9,211.3L458.7,209.4L462.4,207.9L466.1,206.8L469.9,206.2L473.6,206.1L477.3,206.4L481.1,207.2L484.8,208.4L488.5,210.0L492.3,212.0L496.0,214.4L499.8,217.1L503.5,220.2L507.2,223.6L511.3,227.1L514.7,226.1L518.4,224.9L522.2,223.8L525.9,222.8L529.6,221.8L533.4,220.9L537.1,220.1L540.8,219.4L544.6,219.0L548.3,218.6L552.1,218.5L555.8,218.5L559.5,218.7L563.3,219.1L567.0,219.7L570.7,220.5L574.5,221.5L578.2,222.8L581.9,224.2L585.7,225.9L589.4,227.7L593.2,229.8L596.9,232.1L600.6,234.6L604.4,237.3L608.1,240.1L611.8,243.2L615.6,246.4L619.3,249.8L623.0,253.4L626.8,257.1L630.5,260.9L634.2,264.9L638.0,269.0L641.7,273.1L645.5,277.4L649.2,281.7L652.9,286.0L656.7,290.4L660.4,294.7L660.4,294.7L656.7,297.3L652.9,299.8L649.2,302.1L645.5,304.2L641.7,306.0L638.0,307.6L634.2,309.0L630.5,310.1L626.8,311.0L623.0,311.5L619.3,311.9L615.6,311.9L611.8,311.7L608.1,311.2L604.4,310.4L600.6,309.3L596.9,308.0L593.2,306.4L589.4,304.5L585.7,302.4L581.9,300.0L578.2,297.4L574.5,294.6L570.7,291.6L567.0,288.3L563.3,284.8L559.5,281.2L555.8,277.4L552.1,273.5L548.3,269.4L544.6,265.2L540.8,260.9L537.1,256.6L533.4,252.3L529.6,247.9L525.9,243.6L522.2,239.3L518.4,235.1L514.7,231.1L511.3,227.6L507.2,228.4L503.5,229.4L499.8,230.4L496.0,231.3L492.3,232.0L488.5,232.6L484.8,233.1L481.1,233.4L477.3,233.5L473.6,233.5L469.9,233.3L466.1,233.0L462.4,232.6L458.7,232.0L454.9,231.3L451.2,230.5L447.4,229.6L443.7,228.8L440.0,227.9L436.2,227.0L432.5,231.1L428.8,235.5L425.0,240.0L421.3,244.8L417.6,249.6L413.8,254.5L410.1,259.5L406.4,264.5L402.6,269.4L398.9,274.3L395.1,279.2L391.4,283.9L387.7,288.4L383.9,292.9L380.2,297.1L376.5,301.1L372.7,304.8L369.0,308.4L365.3,311.6L361.5,314.6L357.8,317.2L354.0,319.6L350.3,321.6L346.6,323.2L342.8,324.6L339.1,325.5L335.4,326.1L331.6,326.3L327.9,326.1L324.2,325.6L320.4,324.7L316.7,323.4L313.0,321.7L309.2,319.7L305.5,317.4L301.7,314.7L298.0,311.8L294.3,308.6L290.5,305.1L286.8,301.5L283.1,302.2L279.3,302.5L275.6,302.4L271.9,301.9L268.1,300.9L264.4,299.4L260.6,297.6L256.9,295.4L253.2,292.8L249.4,289.8L245.7,286.6L242.0,283.1L238.2,279.4L234.5,275.5L230.8,271.5L227.0,267.4L223.3,263.3L219.6,259.3L215.8,255.4L212.1,251.6L208.3,251.9L204.6,252.4L200.9,253.0L197.1,253.8L193.4,254.6L189.7,255.4L185.9,256.2L182.2,257.0L178.5,257.7L174.7,258.3L171.0,258.7L167.2,259.0L163.5,259.1L159.8,259.1L156.0,258.8L152.3,258.3L148.6,257.6L144.8,256.6L141.1,255.5L137.4,254.2L133.6,258.0L129.9,261.9L126.2,265.9L122.4,270.0L118.7,274.1L114.9,278.3L111.2,282.4L107.5,286.6L103.7,290.6L100.0,294.7Z"/>
<path d="M100.0,232.2L103.7,234.6L107.5,237.1L111.2,239.5L114.9,241.9L118.7,244.2L122.4,246.4L126.2,248.6L129.9,250.6L133.6,252.5L137.4,254.2L141.1,250.4L144.8,246.9L148.6,243.6L152.3,240.7L156.0,238.1L159.8,236.0L163.5,234.2L167.2,232.8L171.0,231.9L174.7,231.5L178.5,231.5L182.2,232.0L185.9,233.0L189.7,234.4L193.4,236.3L197.1,238.6L200.9,241.4L204.6,244.5L208.3,247.9L212.1,251.6L215.8,251.4L219.6,251.4L223.3,251.8L227.0,252.5L230.8,253.5L234.5,254.9L238.2,256.6L242.0,258.7L245.7,261.1L249.4,263.9L253.2,266.9L256.9,270.2L260.6,273.7L264.4,277.4L268.1,281.3L271.9,285.3L275.6,289.4L279.3,293.5L283.1,297.5L286.8,301.5L290.5,300.2L294.3,298.5L298.0,296.4L301.7,294.1L305.5,291.5L309.2,288.7L313.0,285.6L316.7,282.4L320.4,279.0L324.2,275.6L327.9,272.1L331.6,268.5L335.4,265.0L339.1,261.4L342.8,258.0L346.6,254.5L350.3,251.2L354.0,248.0L357.8,244.9L361.5,241.9L365.3,239.2L369.0,236.6L372.7,234.2L376.5,232.0L380.2,230.0L383.9,228.3L387.7,226.8L391.4,225.5L395.1,224.5L398.9,223.7L402.6,223.1L406.4,222.8L410.1,222.7L413.8,222.8L417.6,223.1L421.3,223.6L425.0,224.3L428.8,225.1L432.5,226.0L436.2,227.0L440.0,223.0L443.7,219.3L447.4,215.9L451.2,213.0L454.9,210.5L458.7,208.5L462.4,206.9L466.1,205.8L469.9,205.1L473.6,205.0L477.3,205.3L481.1,206.1L484.8,207.3L488.5,209.0L492.3,211.1L496.0,213.7L499.8,216.6L503.5,219.8L507.2,223.4L511.3,227.1L514.7,225.9L518.4,224.5L522.2,223.2L525.9,221.9L529.6,220.7L533.4,219.6L537.1,218.6L540.8,217.7L544.6,217.0L548.3,216.5L552.1,216.2L555.8,216.0L559.5,216.1L563.3,216.4L567.0,216.8L570.7,217.6L574.5,218.5L578.2,219.7L581.9,221.1L585.7,222.7L589.4,224.5L593.2,226.6L596.9,228.9L600.6,231.5L604.4,234.2L608.1,237.2L611.8,240.3L615.6,243.7L619.3,247.2L623.0,251.0L626.8,254.8L630.5,258.9L634.2,263.1L638.0,267.4L641.7,271.8L645.5,276.2L649.2,280.8L652.9,285.4L656.7,290.1L660.4,294.7L660.4,294.7L656.7,297.6L652.9,300.4L649.2,302.9L645.5,305.3L641.7,307.4L638.0,309.2L634.2,310.8L630.5,312.2L626.8,313.2L623.0,314.0L619.3,314.4L615.6,314.6L611.8,314.5L608.1,314.1L604.4,313.4L600.6,312.4L596.9,311.1L593.2,309.6L589.4,307.7L585.7,305.6L581.9,303.2L578.2,300.5L574.5,297.6L570.7,294.5L567.0,291.1L563.3,287.6L559.5,283.8L555.8,279.9L552.1,275.7L548.3,271.5L544.6,267.1L540.8,262.7L537.1,258.1L533.4,253.6L529.6,249.0L525.9,244.4L522.2,240.0L518.4,235.6L514.7,231.3L511.3,227.6L507.2,228.6L503.5,229.8L499.8,231.0L496.0,232.0L492.3,232.9L488.5,233.6L484.8,234.1L481.1,234.5L477.3,234.7L473.6,234.7L469.9,234.5L466.1,234.1L462.4,233.6L458.7,232.9L454.9,232.1L451.2,231.2L447.4,230.2L443.7,229.1L440.0,228.1L436.2,227.0L432.5,231.3L428.8,235.9L425.0,240.7L421.3,245.6L417.6,250.7L413.8,255.8L410.1,261.0L406.4,266.1L402.6,271.3L398.9,276.4L395.1,281.4L391.4,286.2L387.7,290.9L383.9,295.4L380.2,299.8L376.5,303.8L372.7,307.7L369.0,311.2L365.3,314.5L361.5,317.5L357.8,320.1L354.0,322.4L350.3,324.4L346.6,326.0L342.8,327.2L339.1,328.1L335.4,328.5L331.6,328.6L327.9,328.3L324.2,327.6L320.4,326.5L316.7,325.0L313.0,323.2L309.2,321.0L305.5,318.4L301.7,315.6L298.0,312.4L294.3,309.0L290.5,305.3L286.8,301.5L283.1,302.4L279.3,302.9L275.6,302.9L271.9,302.5L268.1,301.6L264.4,300.3L260.6,298.6L256.9,296.4L253.2,293.8L249.4,290.9L245.7,287.6L242.0,284.1L238.2,280.3L234.5,276.3L230.8,272.2L227.0,268.0L223.3,263.8L219.6,259.6L215.8,255.5L212.1,251.6L208.3,252.1L204.6,252.7L200.9,253.5L197.1,254.4L193.4,255.3L189.7,256.2L185.9,257.2L182.2,258.0L178.5,258.7L174.7,259.4L171.0,259.8L167.2,260.1L163.5,260.1L159.8,260.0L156.0,259.6L152.3,259.0L148.6,258.1L144.8,257.0L141.1,255.7L137.4,254.2L133.6,258.2L129.9,262.3L126.2,266.6L122.4,270.9L118.7,275.3L114.9,279.7L111.2,284.1L107.5,288.5L103.7,292.9L100.0,297.2Z"/>
<path d="M100.0,229.7L103.7,232.4L107.5,235.1L111.2,237.8L114.9,240.4L118.7,243.0L122.4,245.5L126.2,247.9L129.9,250.2L133.6,252.3L137.4,254.2L141.1,250.2L144.8,246.5L148.6,243.1L152.3,240.0L156.0,237.3L159.8,235.0L163.5,233.2L167.2,231.8L171.0,230.9L174.7,230.4L178.5,230.5L182.2,231.0L185.9,232.1L189.7,233.6L193.4,235.6L197.1,238.0L200.9,240.9L204.6,244.1L208.3,247.7L212.1,251.6L215.8,251.2L219.6,251.1L223.3,251.3L227.0,251.9L230.8,252.8L234.5,254.1L238.2,255.7L242.0,257.7L245.7,260.1L249.4,262.8L253.2,265.9L256.9,269.2L260.6,272.8L264.4,276.6L268.1,280.5L271.9,284.7L275.6,288.9L279.3,293.1L283.1,297.3L286.8,301.5L290.5,300.0L294.3,298.1L298.0,295.8L301.7,293.3L305.5,290.5L309.2,287.4L313.0,284.2L316.7,280.8L320.4,277.2L324.2,273.6L327.9,269.9L331.6,266.2L335.4,262.5L339.1,258.9L342.8,255.3L346.6,251.8L350.3,248.4L354.0,245.1L357.8,242.0L361.5,239.0L365.3,236.3L369.0,233.7L372.7,231.4L376.5,229.2L380.2,227.3L383.9,225.7L387.7,224.3L391.4,223.2L395.1,222.3L398.9,221.6L402.6,221.2L406.4,221.1L410.1,221.2L413.8,221.5L417.6,222.0L421.3,222.7L425.0,223.6L428.8,224.6L432.5,225.8L436.2,227.0L440.0,222.8L443.7,218.9L447.4,215.4L451.2,212.3L454.9,209.7L458.7,207.5L462.4,205.8L466.1,204.7L469.9,204.0L473.6,203.8L477.3,204.2L481.1,205.0L484.8,206.3L488.5,208.1L492.3,210.3L496.0,213.0L499.8,216.0L503.5,219.5L507.2,223.2L511.3,227.1L514.7,225.7L518.4,224.1L522.2,222.5L525.9,221.0L529.6,219.6L533.4,218.3L537.1,217.0L540.8,216.0L544.6,215.1L548.3,214.4L552.1,213.9L555.8,213.6L559.5,213.5L563.3,213.6L567.0,214.0L570.7,214.6L574.5,215.4L578.2,216.5L581.9,217.9L585.7,219.5L589.4,221.3L593.2,223.4L596.9,225.8L600.6,228.4L604.4,231.2L608.1,234.2L611.8,237.5L615.6,241.0L619.3,244.7L623.0,248.5L626.8,252.6L630.5,256.8L634.2,261.2L638.0,265.7L641.7,270.4L645.5,275.1L649.2,280.0L652.9,284.8L656.7,289.8L660.4,294.7L660.4,294.7L656.7,297.9L652.9,301.0L649.2,303.8L645.5,306.4L641.7,308.7L638.0,310.8L634.2,312.7L630.5,314.2L626.8,315.4L623.0,316.4L619.3,317.0L615.6,317.4L611.8,317.4L608.1,317.1L604.4,316.5L600.6,315.5L596.9,314.3L593.2,312.8L589.4,310.9L585.7,308.8L581.9,306.4L578.2,303.7L574.5,300.7L570.7,297.5L567.0,294.0L563.3,290.3L559.5,286.4L555.8,282.3L552.1,278.0L548.3,273.6L544.6,269.1L540.8,264.4L537.1,259.7L533.4,254.9L529.6,250.1L525.9,245.3L522.2,240.6L518.4,236.0L514.7,231.5L511.3,227.6L507.2,228.8L503.5,230.2L499.8,231.5L496.0,232.7L492.3,233.7L488.5,234.5L484.8,235.2L481.1,235.6L477.3,235.8L473.6,235.8L469.9,235.6L466.1,235.2L462.4,234.6L458.7,233.8L454.9,232.9L451.2,231.9L447.4,230.7L443.7,229.5L440.0,228.3L436.2,227.0L432.5,231.5L428.8,236.3L425.0,241.3L421.3,246.5L417.6,251.7L413.8,257.1L410.1,262.4L406.4,267.8L402.6,273.1L398.9,278.4L395.1,283.5L391.4,288.5L387.7,293.4L383.9,298.0L380.2,302.4L376.5,306.6L372.7,310.5L369.0,314.1L365.3,317.4L361.5,320.4L357.8,323.0L354.0,325.3L350.3,327.2L346.6,328.7L342.8,329.9L339.1,330.6L335.4,331.0L331.6,330.9L327.9,330.5L324.2,329.6L320.4,328.3L316.7,326.7L313.0,324.6L309.2,322.2L305.5,319.5L301.7,316.4L298.0,313.0L294.3,309.4L290.5,305.5L286.8,301.5L283.1,302.6L279.3,303.3L275.6,303.5L271.9,303.2L268.1,302.4L264.4,301.2L260.6,299.5L256.9,297.4L253.2,294.8L249.4,291.9L245.7,288.6L242.0,285.1L238.2,281.2L234.5,277.2L230.8,272.9L227.0,268.6L223.3,264.3L219.6,259.9L215.8,255.7L212.1,251.6L208.3,252.2L204.6,253.0L200.9,253.9L197.1,255.0L193.4,256.0L189.7,257.1L185.9,258.1L182.2,259.0L178.5,259.8L174.7,260.4L171.0,260.9L167.2,261.1L163.5,261.1L159.8,260.9L156.0,260.4L152.3,259.7L148.6,258.7L144.8,257.4L141.1,255.9L137.4,254.2L133.6,258.4L129.9,262.8L126.2,267.3L122.4,271.9L118.7,276.5L114.9,281.2L111.2,285.9L107.5,290.5L103.7,295.1L100.0,299.7Z"/>
<path d="M100.0,227.2L103.7,230.1L107.5,233.1L111.2,236.1L114.9,239.0L118.7,241.8L122.4,244.6L126.2,247.2L129.9,249.7L133.6,252.0L137.4,254.2L141.1,250.0L144.8,246.1L148.6,242.5L152.3,239.3L156.0,236.5L159.8,234.1L163.5,232.2L167.2,230.7L171.0,229.8L174.7,229.3L178.5,229.4L182.2,230.0L185.9,231.1L189.7,232.8L193.4,234.9L197.1,237.4L200.9,240.4L204.6,243.8L208.3,247.6L212.1,251.6L215.8,251.1L219.6,250.8L223.3,250.9L227.0,251.3L230.8,252.1L234.5,253.2L238.2,254.8L242.0,256.8L245.7,259.1L249.4,261.8L253.2,264.8L256.9,268.2L260.6,271.8L264.4,275.7L268.1,279.8L271.9,284.0L275.6,288.3L279.3,292.8L283.1,297.2L286.8,301.5L290.5,299.8L294.3,297.7L298.0,295.2L301.7,292.5L305.5,289.4L309.2,286.2L313.0,282.7L316.7,279.1L320.4,275.4L324.2,271.6L327.9,267.8L331.6,263.9L335.4,260.1L339.1,256.3L342.8,252.6L346.6,249.0L350.3,245.6L354.0,242.2L357.8,239.1L361.5,236.1L365.3,233.4L369.0,230.8L372.7,228.5L376.5,226.5L380.2,224.7L383.9,223.1L387.7,221.8L391.4,220.8L395.1,220.1L398.9,219.6L402.6,219.4L406.4,219.4L410.1,219.7L413.8,220.2L417.6,221.0L421.3,221.9L425.0,223.0L428.8,224.2L432.5,225.6L436.2,227.0L440.0,222.6L443.7,218.5L447.4,214.8L451.2,211.6L454.9,208.9L458.7,206.6L462.4,204.8L466.1,203.6L469.9,202.9L473.6,202.7L477.3,203.0L481.1,203.9L484.8,205.3L488.5,207.1L492.3,209.5L496.0,212.3L499.8,215.5L503.5,219.1L507.2,223.0L511.3,227.1L514.7,225.5L518.4,223.7L522.2,221.9L525.9,220.1L529.6,218.5L533.4,216.9L537.1,215.5L540.8,214.3L544.6,213.2L548.3,212.3L552.1,211.6L555.8,211.1L559.5,210.9L563.3,210.9L567.0,211.1L570.7,211.6L574.5,212.4L578.2,213.4L581.9,214.7L585.7,216.3L589.4,218.1L593.2,220.2L596.9,222.6L600.6,225.2L604.4,228.1L608.1,231.3L611.8,234.6L615.6,238.2L619.3,242.1L623.0,246.1L626.8,250.4L630.5,254.8L634.2,259.4L638.0,264.1L641.7,269.0L645.5,274.0L649.2,279.1L652.9,284.3L656.7,289.5L660.4,294.7L660.4,294.7L656.7,298.2L652.9,301.5L649.2,304.6L645.5,307.5L641.7,310.1L638.0,312.5L634.2,314.5L630.5,316.3L626.8,317.7L623.0,318.8L619.3,319.6L615.6,320.1L611.8,320.2L608.1,320.0L604.4,319.5L600.6,318.6L596.9,317.5L593.2,315.9L589.4,314.1L585.7,312.0L581.9,309.5L578.2,306.8L574.5,303.7L570.7,300.4L567.0,296.9L563.3,293.1L559.5,289.0L555.8,284.8L552.1,280.3L548.3,275.7L544.6,271.0L540.8,266.1L537.1,261.2L533.4,256.2L529.6,251.2L525.9,246.2L522.2,241.2L518.4,236.4L514.7,231.7L511.3,227.6L507.2,229.0L503.5,230.6L499.8,232.1L496.0,233.4L492.3,234.5L488.5,235.5L484.8,236.2L481.1,236.7L477.3,236.9L473.6,237.0L469.9,236.7L466.1,236.3L462.4,235.6L458.7,234.8L454.9,233.8L451.2,232.6L447.4,231.3L443.7,229.9L440.0,228.5L436.2,227.0L432.5,231.7L428.8,236.7L425.0,241.9L421.3,247.3L417.6,252.8L413.8,258.3L410.1,263.9L406.4,269.5L402.6,275.0L398.9,280.4L395.1,285.7L391.4,290.9L387.7,295.8L383.9,300.6L380.2,305.1L376.5,309.4L372.7,313.3L369.0,317.0L365.3,320.3L361.5,323.3L357.8,325.9L354.0,328.2L350.3,330.0L346.6,331.5L342.8,332.6L339.1,333.2L335.4,333.4L331.6,333.2L327.9,332.6L324.2,331.6L320.4,330.1L316.7,328.3L313.0,326.1L309.2,323.5L305.5,320.5L301.7,317.2L298.0,313.6L294.3,309.8L290.5,305.7L286.8,301.5L283.1,302.8L279.3,303.6L275.6,304.0L271.9,303.8L268.1,303.2L264.4,302.1L260.6,300.5L256.9,298.4L253.2,295.9L249.4,293.0L245.7,289.7L242.0,286.0L238.2,282.1L234.5,278.0L230.8,273.7L227.0,269.2L223.3,264.7L219.6,260.2L215.8,255.8L212.1,251.6L208.3,252.4L204.6,253.3L200.9,254.4L197.1,255.6L193.4,256.8L189.7,257.9L185.9,259.0L182.2,260.0L178.5,260.8L174.7,261.5L171.0,262.0L167.2,262.2L163.5,262.1L159.8,261.8L156.0,261.3L152.3,260.4L148.6,259.2L144.8,257.8L141.1,256.1L137.4,254.2L133.6,258.6L129.9,263.2L126.2,268.0L122.4,272.8L118.7,277.7L114.9,282.6L111.2,287.6L107.5,292.5L103.7,297.4L100.0,302.2Z"/>
<path d="M100.0,224.6L103.7,227.9L107.5,231.1L111.2,234.4L114.9,237.5L118.7,240.6L122.4,243.6L126.2,246.5L129.9,249.3L133.6,251.8L137.4,254.2L141.1,249.8L144.8,245.7L148.6,242.0L152.3,238.6L156.0,235.7L159.8,233.2L163.5,231.2L167.2,229.7L171.0,228.7L174.7,228.3L178.5,228.4L182.2,229.0L185.9,230.2L189.7,231.9L193.4,234.1L197.1,236.8L200.9,240.0L204.6,243.5L208.3,247.4L212.1,251.6L215.8,250.9L219.6,250.5L223.3,250.4L227.0,250.7L230.8,251.4L234.5,252.4L238.2,253.9L242.0,255.8L245.7,258.1L249.4,260.7L253.2,263.8L256.9,267.2L260.6,270.9L264.4,274.8L268.1,279.0L271.9,283.3L275.6,287.8L279.3,292.4L283.1,297.0L286.8,301.5L290.5,299.6L294.3,297.3L298.0,294.6L301.7,291.6L305.5,288.4L309.2,284.9L313.0,281.3L316.7,277.5L320.4,273.6L324.2,269.6L327.9,265.6L331.6,261.6L335.4,257.7L339.1,253.8L342.8,250.0L346.6,246.3L350.3,242.7L354.0,239.4L357.8,236.2L361.5,233.2L365.3,230.5L369.0,228.0L372.7,225.7L376.5,223.7L380.2,222.0L383.9,220.5L387.7,219.4L391.4,218.5L395.1,217.9L398.9,217.6L402.6,217.5L406.4,217.8L410.1,218.2L413.8,219.0L417.6,219.9L421.3,221.0L425.0,222.4L428.8,223.8L432.5,225.4L436.2,227.0L440.0,222.4L443.7,218.1L447.4,214.3L451.2,210.9L454.9,208.0L458.7,205.6L462.4,203.8L466.1,202.5L469.9,201.7L473.6,201.5L477.3,201.9L481.1,202.8L484.8,204.2L488.5,206.2L492.3,208.6L496.0,211.6L499.8,214.9L503.5,218.7L507.2,222.8L511.3,227.1L514.7,225.3L518.4,223.2L522.2,221.2L525.9,219.3L529.6,217.4L533.4,215.6L537.1,214.0L540.8,212.5L544.6,211.2L548.3,210.2L552.1,209.3L555.8,208.7L559.5,208.3L563.3,208.1L567.0,208.3L570.7,208.7L574.5,209.4L578.2,210.3L581.9,211.6L585.7,213.1L589.4,214.9L593.2,217.1L596.9,219.5L600.6,222.1L604.4,225.1L608.1,228.3L611.8,231.8L615.6,235.5L619.3,239.5L623.0,243.7L626.8,248.1L630.5,252.7L634.2,257.5L638.0,262.5L641.7,267.6L645.5,272.9L649.2,278.3L652.9,283.7L656.7,289.2L660.4,294.7L660.4,294.7L656.7,298.5L652.9,302.1L649.2,305.5L645.5,308.6L641.7,311.5L638.0,314.1L634.2,316.3L630.5,318.3L626.8,319.9L623.0,321.2L619.3,322.2L615.6,322.8L611.8,323.1L608.1,323.0L604.4,322.6L600.6,321.8L596.9,320.6L593.2,319.1L589.4,317.3L585.7,315.2L581.9,312.7L578.2,309.9L574.5,306.8L570.7,303.4L567.0,299.7L563.3,295.8L559.5,291.6L555.8,287.2L552.1,282.6L548.3,277.8L544.6,272.9L540.8,267.9L537.1,262.7L533.4,257.5L529.6,252.3L525.9,247.0L522.2,241.9L518.4,236.8L514.7,231.9L511.3,227.7L507.2,229.2L503.5,231.0L499.8,232.6L496.0,234.1L492.3,235.4L488.5,236.4L484.8,237.2L481.1,237.8L477.3,238.1L473.6,238.1L469.9,237.9L466.1,237.4L462.4,236.7L458.7,235.7L454.9,234.6L451.2,233.3L447.4,231.8L443.7,230.3L440.0,228.6L436.2,227.0L432.5,231.9L428.8,237.1L425.0,242.6L421.3,248.2L417.6,253.8L413.8,259.6L410.1,265.4L406.4,271.2L402.6,276.9L398.9,282.5L395.1,287.9L391.4,293.2L387.7,298.3L383.9,303.2L380.2,307.8L376.5,312.1L372.7,316.2L369.0,319.9L365.3,323.2L361.5,326.2L357.8,328.8L354.0,331.0L350.3,332.8L346.6,334.2L342.8,335.2L339.1,335.8L335.4,335.9L331.6,335.5L327.9,334.8L324.2,333.6L320.4,332.0L316.7,329.9L313.0,327.5L309.2,324.7L305.5,321.5L301.7,318.0L298.0,314.2L294.3,310.2L290.5,305.9L286.8,301.5L283.1,303.0L279.3,304.0L275.6,304.5L271.9,304.5L268.1,304.0L264.4,303.0L260.6,301.4L256.9,299.4L253.2,296.9L249.4,294.0L245.7,290.7L242.0,287.0L238.2,283.0L234.5,278.8L230.8,274.4L227.0,269.8L223.3,265.2L219.6,260.6L215.8,256.0L212.1,251.6L208.3,252.5L204.6,253.6L200.9,254.9L197.1,256.2L193.4,257.5L189.7,258.8L185.9,259.9L182.2,261.0L178.5,261.9L174.7,262.6L171.0,263.0L167.2,263.2L163.5,263.1L159.8,262.8L156.0,262.1L152.3,261.1L148.6,259.8L144.8,258.2L141.1,256.3L137.4,254.2L133.6,258.8L129.9,263.7L126.2,268.6L122.4,273.7L118.7,278.9L114.9,284.1L111.2,289.3L107.5,294.5L103.7,299.6L100.0,304.7Z"/>
<path d="M100.0,222.1L103.7,225.7L107.5,229.2L111.2,232.6L114.9,236.1L118.7,239.4L122.4,242.7L126.2,245.8L129.9,248.8L133.6,251.6L137.4,254.2L141.1,249.6L144.8,245.3L148.6,241.4L152.3,237.9L156.0,234.8L159.8,232.3L163.5,230.2L167.2,228.6L171.0,227.6L174.7,227.2L178.5,227.3L182.2,228.0L185.9,229.3L189.7,231.1L193.4,233.4L197.1,236.2L200.9,239.5L204.6,243.2L208.3,247.3L212.1,251.6L215.8,250.7L219.6,250.2L223.3,249.9L227.0,250.1L230.8,250.6L234.5,251.6L238.2,253.0L242.0,254.8L245.7,257.1L249.4,259.7L253.2,262.8L256.9,266.2L260.6,269.9L264.4,273.9L268.1,278.2L271.9,282.7L275.6,287.3L279.3,292.0L283.1,296.8L286.8,301.5L290.5,299.4L294.3,296.9L298.0,294.0L301.7,290.8L305.5,287.4L309.2,283.7L313.0,279.8L316.7,275.8L320.4,271.8L324.2,267.6L327.9,263.4L331.6,259.3L335.4,255.2L339.1,251.2L342.8,247.3L346.6,243.5L350.3,239.9L354.0,236.5L357.8,233.3L361.5,230.3L365.3,227.6L369.0,225.1L372.7,222.9L376.5,220.9L380.2,219.3L383.9,217.9L387.7,216.9L391.4,216.1L395.1,215.7L398.9,215.5L402.6,215.7L406.4,216.1L410.1,216.8L413.8,217.7L417.6,218.8L421.3,220.2L425.0,221.7L428.8,223.4L432.5,225.2L436.2,227.0L440.0,222.2L443.7,217.8L447.4,213.8L451.2,210.2L454.9,207.2L458.7,204.7L462.4,202.8L466.1,201.4L469.9,200.6L473.6,200.4L477.3,200.8L481.1,201.7L484.8,203.2L488.5,205.2L492.3,207.8L496.0,210.9L499.8,214.4L503.5,218.3L507.2,222.6L511.3,227.1L514.7,225.1L518.4,222.8L522.2,220.6L525.9,218.4L529.6,216.3L533.4,214.3L537.1,212.5L540.8,210.8L544.6,209.3L548.3,208.0L552.1,207.0L555.8,206.2L559.5,205.7L563.3,205.4L567.0,205.4L570.7,205.7L574.5,206.3L578.2,207.2L581.9,208.4L585.7,209.9L589.4,211.7L593.2,213.9L596.9,216.3L600.6,219.0L604.4,222.0L608.1,225.3L611.8,228.9L615.6,232.8L619.3,236.9L623.0,241.3L626.8,245.9L630.5,250.7L634.2,255.7L638.0,260.9L641.7,266.3L645.5,271.8L649.2,277.4L652.9,283.1L656.7,288.9L660.4,294.7L660.4,294.7L656.7,298.8L652.9,302.7L649.2,306.3L645.5,309.7L641.7,312.9L638.0,315.7L634.2,318.2L630.5,320.4L626.8,322.2L623.0,323.7L619.3,324.8L615.6,325.5L611.8,325.9L608.1,325.9L604.4,325.6L600.6,324.9L596.9,323.8L593.2,322.3L589.4,320.5L585.7,318.3L581.9,315.8L578.2,313.0L574.5,309.8L570.7,306.4L567.0,302.6L563.3,298.5L559.5,294.2L555.8,289.7L552.1,284.9L548.3,280.0L544.6,274.8L540.8,269.6L537.1,264.2L533.4,258.8L529.6,253.4L525.9,247.9L522.2,242.5L518.4,237.3L514.7,232.2L511.3,227.7L507.2,229.4L503.5,231.4L499.8,233.2L496.0,234.8L492.3,236.2L488.5,237.4L484.8,238.3L481.1,238.9L477.3,239.2L473.6,239.2L469.9,239.0L466.1,238.5L462.4,237.7L458.7,236.7L454.9,235.4L451.2,234.0L447.4,232.4L443.7,230.7L440.0,228.8L436.2,227.0L432.5,232.1L428.8,237.6L425.0,243.2L421.3,249.0L417.6,254.9L413.8,260.9L410.1,266.9L406.4,272.8L402.6,278.7L398.9,284.5L395.1,290.1L391.4,295.6L387.7,300.8L383.9,305.8L380.2,310.5L376.5,314.9L372.7,319.0L369.0,322.7L365.3,326.1L361.5,329.1L357.8,331.7L354.0,333.9L350.3,335.7L346.6,337.0L342.8,337.9L339.1,338.3L335.4,338.3L331.6,337.8L327.9,336.9L324.2,335.6L320.4,333.8L316.7,331.6L313.0,329.0L309.2,325.9L305.5,322.6L301.7,318.9L298.0,314.9L294.3,310.6L290.5,306.1L286.8,301.5L283.1,303.2L279.3,304.4L275.6,305.0L271.9,305.2L268.1,304.8L264.4,303.8L260.6,302.4L256.9,300.4L253.2,297.9L249.4,295.0L245.7,291.7L242.0,288.0L238.2,283.9L234.5,279.6L230.8,275.1L227.0,270.4L223.3,265.7L219.6,260.9L215.8,256.2L212.1,251.6L208.3,252.7L204.6,254.0L200.9,255.3L197.1,256.8L193.4,258.2L189.7,259.6L185.9,260.9L182.2,262.0L178.5,262.9L174.7,263.6L171.0,264.1L167.2,264.3L163.5,264.1L159.8,263.7L156.0,262.9L152.3,261.8L148.6,260.4L144.8,258.6L141.1,256.5L137.4,254.2L133.6,259.1L129.9,264.1L126.2,269.3L122.4,274.7L118.7,280.1L114.9,285.5L111.2,291.0L107.5,296.5L103.7,301.9L100.0,307.2Z"/>
<path d="M100.0,219.6L103.7,223.4L107.5,227.2L111.2,230.9L114.9,234.6L118.7,238.2L122.4,241.7L126.2,245.1L129.9,248.4L133.6,251.4L137.4,254.2L141.1,249.4L144.8,244.9L148.6,240.9L152.3,237.2L156.0,234.0L159.8,231.3L163.5,229.2L167.2,227.6L171.0,226.6L174.7,226.1L178.5,226.3L182.2,227.0L185.9,228.3L189.7,230.2L193.4,232.7L197.1,235.6L200.9,239.0L204.6,242.9L208.3,247.1L212.1,251.6L215.8,250.6L219.6,249.9L223.3,249.5L227.0,249.5L230.8,249.9L234.5,250.8L238.2,252.1L242.0,253.8L245.7,256.0L249.4,258.7L253.2,261.7L256.9,265.2L260.6,268.9L264.4,273.0L268.1,277.4L271.9,282.0L275.6,286.8L279.3,291.7L283.1,296.6L286.8,301.5L290.5,299.2L294.3,296.5L298.0,293.4L301.7,290.0L305.5,286.3L309.2,282.4L313.0,278.4L316.7,274.2L320.4,269.9L324.2,265.6L327.9,261.3L331.6,257.0L335.4,252.8L339.1,248.6L342.8,244.6L346.6,240.8L350.3,237.1L354.0,233.6L357.8,230.4L361.5,227.4L365.3,224.7L369.0,222.2L372.7,220.0L376.5,218.2L380.2,216.6L383.9,215.4L387.7,214.4L391.4,213.8L395.1,213.5L398.9,213.5L402.6,213.8L406.4,214.4L410.1,215.3L413.8,216.4L417.6,217.8L421.3,219.3L425.0,221.1L428.8,223.0L432.5,225.0L436.2,227.0L440.0,222.0L443.7,217.4L447.4,213.2L451.2,209.5L454.9,206.4L458.7,203.8L462.4,201.7L466.1,200.3L469.9,199.5L473.6,199.2L477.3,199.6L481.1,200.6L484.8,202.2L488.5,204.3L492.3,207.0L496.0,210.2L499.8,213.8L503.5,217.9L507.2,222.4L511.3,227.0L514.7,224.8L518.4,222.4L522.2,219.9L525.9,217.5L529.6,215.2L533.4,213.0L537.1,211.0L540.8,209.1L544.6,207.4L548.3,205.9L552.1,204.7L555.8,203.7L559.5,203.1L563.3,202.7L567.0,202.6L570.7,202.8L574.5,203.3L578.2,204.1L581.9,205.3L585.7,206.7L589.4,208.5L593.2,210.7L596.9,213.1L600.6,215.9L604.4,219.0L608.1,222.4L611.8,226.1L615.6,230.1L619.3,234.3L623.0,238.8L626.8,243.6L630.5,248.6L634.2,253.9L638.0,259.3L641.7,264.9L645.5,270.7L649.2,276.6L652.9,282.5L656.7,288.6L660.4,294.7L660.4,294.7L656.7,299.1L652.9,303.3L649.2,307.2L645.5,310.9L641.7,314.2L638.0,317.3L634.2,320.0L630.5,322.4L626.8,324.4L623.0,326.1L619.3,327.4L615.6,328.3L611.8,328.8L608.1,328.9L604.4,328.6L600.6,328.0L596.9,326.9L593.2,325.5L589.4,323.7L585.7,321.5L581.9,319.0L578.2,316.1L574.5,312.9L570.7,309.3L567.0,305.4L563.3,301.3L559.5,296.8L555.8,292.1L552.1,287.2L548.3,282.1L544.6,276.8L540.8,271.3L537.1,265.7L533.4,260.1L529.6,254.4L525.9,248.8L522.2,243.2L518.4,237.7L514.7,232.4L511.3,227.7L507.2,229.6L503.5,231.7L499.8,233.7L496.0,235.5L492.3,237.1L488.5,238.3L484.8,239.3L481.1,240.0L477.3,240.3L473.6,240.4L469.9,240.1L466.1,239.6L462.4,238.7L458.7,237.6L454.9,236.2L451.2,234.7L447.4,232.9L443.7,231.0L440.0,229.0L436.2,227.0L432.5,232.4L428.8,238.0L425.0,243.8L421.3,249.8L417.6,256.0L413.8,262.1L410.1,268.3L406.4,274.5L402.6,280.6L398.9,286.5L395.1,292.3L391.4,297.9L387.7,303.2L383.9,308.4L380.2,313.2L376.5,317.7L372.7,321.8L369.0,325.6L365.3,329.0L361.5,332.0L357.8,334.6L354.0,336.8L350.3,338.5L346.6,339.7L342.8,340.5L339.1,340.9L335.4,340.8L331.6,340.2L327.9,339.1L324.2,337.6L320.4,335.6L316.7,333.2L313.0,330.4L309.2,327.2L305.5,323.6L301.7,319.7L298.0,315.5L294.3,311.0L290.5,306.3L286.8,301.5L283.1,303.4L279.3,304.7L275.6,305.5L271.9,305.8L268.1,305.6L264.4,304.7L260.6,303.3L256.9,301.4L253.2,299.0L249.4,296.1L245.7,292.7L242.0,289.0L238.2,284.9L234.5,280.5L230.8,275.8L227.0,271.0L223.3,266.1L219.6,261.2L215.8,256.3L212.1,251.6L208.3,252.9L204.6,254.3L200.9,255.8L197.1,257.4L193.4,258.9L189.7,260.4L185.9,261.8L182.2,263.0L178.5,264.0L174.7,264.7L171.0,265.2L167.2,265.3L163.5,265.1L159.8,264.6L156.0,263.7L152.3,262.5L148.6,260.9L144.8,259.0L141.1,256.7L137.4,254.2L133.6,259.3L129.9,264.6L126.2,270.0L122.4,275.6L118.7,281.3L114.9,287.0L111.2,292.7L107.5,298.4L103.7,304.1L100.0,309.7Z"/>
<path d="M100.0,217.1L103.7,221.2L107.5,225.2L111.2,229.2L114.9,233.2L118.7,237.0L122.4,240.8L126.2,244.4L129.9,247.9L133.6,251.2L137.4,254.2L141.1,249.2L144.8,244.6L148.6,240.3L152.3,236.5L156.0,233.2L159.8,230.4L163.5,228.2L167.2,226.5L171.0,225.5L174.7,225.1L178.5,225.2L182.2,226.0L185.9,227.4L189.7,229.4L193.4,231.9L197.1,235.0L200.9,238.6L204.6,242.6L208.3,246.9L212.1,251.6L215.8,250.4L219.6,249.5L223.3,249.0L227.0,248.9L230.8,249.2L234.5,249.9L238.2,251.2L242.0,252.9L245.7,255.0L249.4,257.6L253.2,260.7L256.9,264.1L260.6,268.0L264.4,272.2L268.1,276.6L271.9,281.4L275.6,286.3L279.3,291.3L283.1,296.4L286.8,301.5L290.5,299.0L294.3,296.1L298.0,292.8L301.7,289.2L305.5,285.3L309.2,281.2L313.0,276.9L316.7,272.6L320.4,268.1L324.2,263.6L327.9,259.1L331.6,254.7L335.4,250.3L339.1,246.1L342.8,242.0L346.6,238.0L350.3,234.3L354.0,230.8L357.8,227.5L361.5,224.5L365.3,221.8L369.0,219.3L372.7,217.2L376.5,215.4L380.2,213.9L383.9,212.8L387.7,212.0L391.4,211.5L395.1,211.3L398.9,211.5L402.6,212.0L406.4,212.8L410.1,213.8L413.8,215.1L417.6,216.7L421.3,218.5L425.0,220.5L428.8,222.6L432.5,224.8L436.2,227.0L440.0,221.8L443.7,217.0L447.4,212.7L451.2,208.8L454.9,205.5L458.7,202.8L462.4,200.7L466.1,199.2L469.9,198.3L473.6,198.1L477.3,198.5L481.1,199.5L484.8,201.1L488.5,203.4L492.3,206.1L496.0,209.5L499.8,213.3L503.5,217.5L507.2,222.2L511.3,227.0L514.7,224.6L518.4,222.0L522.2,219.3L525.9,216.7L529.6,214.1L533.4,211.7L537.1,209.4L540.8,207.3L544.6,205.5L548.3,203.8L552.1,202.4L555.8,201.3L559.5,200.5L563.3,199.9L567.0,199.7L570.7,199.8L574.5,200.2L578.2,201.0L581.9,202.1L585.7,203.6L589.4,205.3L593.2,207.5L596.9,210.0L600.6,212.8L604.4,215.9L608.1,219.4L611.8,223.2L615.6,227.3L619.3,231.7L623.0,236.4L626.8,241.4L630.5,246.6L634.2,252.0L638.0,257.7L641.7,263.5L645.5,269.6L649.2,275.7L652.9,282.0L656.7,288.3L660.4,294.7L660.4,294.7L656.7,299.4L652.9,303.8L649.2,308.0L645.5,312.0L641.7,315.6L638.0,318.9L634.2,321.9L630.5,324.5L626.8,326.7L623.0,328.5L619.3,330.0L615.6,331.0L611.8,331.6L608.1,331.9L604.4,331.7L600.6,331.1L596.9,330.1L593.2,328.7L589.4,326.9L585.7,324.7L581.9,322.2L578.2,319.2L574.5,315.9L570.7,312.3L567.0,308.3L563.3,304.0L559.5,299.4L555.8,294.6L552.1,289.5L548.3,284.2L544.6,278.7L540.8,273.0L537.1,267.3L533.4,261.4L529.6,255.5L525.9,249.7L522.2,243.8L518.4,238.1L514.7,232.6L511.3,227.7L507.2,229.8L503.5,232.1L499.8,234.3L496.0,236.2L492.3,237.9L488.5,239.3L484.8,240.3L481.1,241.1L477.3,241.5L473.6,241.5L469.9,241.2L466.1,240.7L462.4,239.7L458.7,238.5L454.9,237.1L451.2,235.4L447.4,233.5L443.7,231.4L440.0,229.2L436.2,227.0L432.5,232.6L428.8,238.4L425.0,244.5L421.3,250.7L417.6,257.0L413.8,263.4L410.1,269.8L406.4,276.2L402.6,282.4L398.9,288.5L395.1,294.5L391.4,300.2L387.7,305.7L383.9,310.9L380.2,315.8L376.5,320.4L372.7,324.6L369.0,328.5L365.3,331.9L361.5,334.9L357.8,337.5L354.0,339.6L350.3,341.3L346.6,342.5L342.8,343.2L339.1,343.4L335.4,343.2L331.6,342.5L327.9,341.3L324.2,339.6L320.4,337.4L316.7,334.9L313.0,331.8L309.2,328.4L305.5,324.6L301.7,320.5L298.0,316.1L294.3,311.4L290.5,306.5L286.8,301.5L283.1,303.5L279.3,305.1L275.6,306.1L271.9,306.5L268.1,306.3L264.4,305.6L260.6,304.3L256.9,302.4L253.2,300.0L249.4,297.1L245.7,293.7L242.0,289.9L238.2,285.8L234.5,281.3L230.8,276.5L227.0,271.6L223.3,266.6L219.6,261.5L215.8,256.5L212.1,251.6L208.3,253.0L204.6,254.6L200.9,256.3L197.1,258.0L193.4,259.7L189.7,261.3L185.9,262.7L182.2,264.0L178.5,265.0L174.7,265.8L171.0,266.2L167.2,266.4L163.5,266.1L159.8,265.5L156.0,264.6L152.3,263.2L148.6,261.5L144.8,259.4L141.1,256.9L137.4,254.2L133.6,259.5L129.9,265.0L126.2,270.7L122.4,276.6L118.7,282.5L114.9,288.5L111.2,294.4L107.5,300.4L103.7,306.3L100.0,312.2Z"/>
<path d="M100.0,214.6L103.7,218.9L107.5,223.2L111.2,227.5L114.9,231.7L118.7,235.8L122.4,239.9L126.2,243.7L129.9,247.5L133.6,251.0L137.4,254.2L141.1,249.0L144.8,244.2L148.6,239.7L152.3,235.8L156.0,232.4L159.8,229.5L163.5,227.2L167.2,225.5L171.0,224.4L174.7,224.0L178.5,224.2L182.2,225.0L185.9,226.5L189.7,228.6L193.4,231.2L197.1,234.4L200.9,238.1L204.6,242.2L208.3,246.8L212.1,251.6L215.8,250.3L219.6,249.2L223.3,248.6L227.0,248.3L230.8,248.5L234.5,249.1L238.2,250.3L242.0,251.9L245.7,254.0L249.4,256.6L253.2,259.6L256.9,263.1L260.6,267.0L264.4,271.3L268.1,275.9L271.9,280.7L275.6,285.7L279.3,290.9L283.1,296.2L286.8,301.5L290.5,298.8L294.3,295.7L298.0,292.2L301.7,288.3L305.5,284.2L309.2,279.9L313.0,275.5L316.7,270.9L320.4,266.3L324.2,261.6L327.9,257.0L331.6,252.4L335.4,247.9L339.1,243.5L342.8,239.3L346.6,235.3L350.3,231.5L354.0,227.9L357.8,224.6L361.5,221.6L365.3,218.9L369.0,216.5L372.7,214.4L376.5,212.6L380.2,211.2L383.9,210.2L387.7,209.5L391.4,209.1L395.1,209.1L398.9,209.5L402.6,210.1L406.4,211.1L410.1,212.3L413.8,213.9L417.6,215.7L421.3,217.7L425.0,219.8L428.8,222.1L432.5,224.6L436.2,227.0L440.0,221.6L443.7,216.6L447.4,212.1L451.2,208.1L454.9,204.7L458.7,201.9L462.4,199.7L466.1,198.1L469.9,197.2L473.6,197.0L477.3,197.4L481.1,198.4L484.8,200.1L488.5,202.4L492.3,205.3L496.0,208.7L499.8,212.7L503.5,217.2L507.2,222.0L511.3,227.0L514.7,224.4L518.4,221.5L522.2,218.7L525.9,215.8L529.6,213.0L533.4,210.4L537.1,207.9L540.8,205.6L544.6,203.5L548.3,201.7L552.1,200.1L555.8,198.8L559.5,197.8L563.3,197.2L567.0,196.8L570.7,196.8L574.5,197.2L578.2,197.9L581.9,198.9L585.7,200.4L589.4,202.1L593.2,204.3L596.9,206.8L600.6,209.7L604.4,212.9L608.1,216.5L611.8,220.4L615.6,224.6L619.3,229.1L623.0,234.0L626.8,239.1L630.5,244.5L634.2,250.2L638.0,256.1L641.7,262.2L645.5,268.4L649.2,274.9L652.9,281.4L656.7,288.0L660.4,294.7L660.4,294.7L656.7,299.7L652.9,304.4L649.2,308.9L645.5,313.1L641.7,317.0L638.0,320.5L634.2,323.7L630.5,326.5L626.8,328.9L623.0,330.9L619.3,332.5L615.6,333.7L611.8,334.5L608.1,334.8L604.4,334.7L600.6,334.2L596.9,333.3L593.2,331.9L589.4,330.1L585.7,327.9L581.9,325.3L578.2,322.3L574.5,319.0L570.7,315.2L567.0,311.2L563.3,306.8L559.5,302.0L555.8,297.0L552.1,291.8L548.3,286.3L544.6,280.6L540.8,274.8L537.1,268.8L533.4,262.7L529.6,256.6L525.9,250.5L522.2,244.5L518.4,238.5L514.7,232.8L511.3,227.7L507.2,230.0L503.5,232.5L499.8,234.8L496.0,236.9L492.3,238.7L488.5,240.2L484.8,241.4L481.1,242.2L477.3,242.6L473.6,242.7L469.9,242.4L466.1,241.7L462.4,240.8L458.7,239.5L454.9,237.9L451.2,236.1L447.4,234.0L443.7,231.8L440.0,229.4L436.2,227.0L432.5,232.8L428.8,238.8L425.0,245.1L421.3,251.5L417.6,258.1L413.8,264.7L410.1,271.3L406.4,277.8L402.6,284.3L398.9,290.6L395.1,296.7L391.4,302.6L387.7,308.2L383.9,313.5L380.2,318.5L376.5,323.2L372.7,327.5L369.0,331.3L365.3,334.8L361.5,337.8L357.8,340.4L354.0,342.5L350.3,344.1L346.6,345.2L342.8,345.9L339.1,346.0L335.4,345.6L331.6,344.8L327.9,343.4L324.2,341.6L320.4,339.3L316.7,336.5L313.0,333.3L309.2,329.7L305.5,325.7L301.7,321.3L298.0,316.7L294.3,311.8L290.5,306.7L286.8,301.5L283.1,303.7L279.3,305.4L275.6,306.6L271.9,307.1L268.1,307.1L264.4,306.5L260.6,305.2L256.9,303.4L253.2,301.1L249.4,298.2L245.7,294.8L242.0,290.9L238.2,286.7L234.5,282.1L230.8,277.3L227.0,272.2L223.3,267.0L219.6,261.8L215.8,256.6L212.1,251.6L208.3,253.2L204.6,254.9L200.9,256.7L197.1,258.6L193.4,260.4L189.7,262.1L185.9,263.7L182.2,265.0L178.5,266.1L174.7,266.9L171.0,267.3L167.2,267.4L163.5,267.1L159.8,266.5L156.0,265.4L152.3,263.9L148.6,262.0L144.8,259.8L141.1,257.2L137.4,254.2L133.6,259.7L129.9,265.5L126.2,271.4L122.4,277.5L118.7,283.7L114.9,289.9L111.2,296.2L107.5,302.4L103.7,308.6L100.0,314.7Z"/>
</g>
<path d="M100.0,214.6L100.9,215.7L101.9,216.8L102.8,217.9L103.7,218.9L104.7,220.0L105.6,221.1L106.5,222.2L107.5,223.2L108.4,224.3L109.3,225.4L110.3,226.4L111.2,227.5L112.1,228.5L113.1,229.6L114.0,230.7L114.9,231.7L115.9,232.7L116.8,233.8L117.7,234.8L118.7,235.8L119.6,236.9L120.5,237.9L121.5,238.9L122.4,239.9L123.3,240.8L124.3,241.8L125.2,242.8L126.2,243.7L127.1,244.7L128.0,245.6L129.0,246.5L129.9,247.5L130.8,248.4L131.8,249.2L132.7,250.1L133.6,251.0L134.6,251.8L135.5,252.6L136.4,253.4L137.4,254.2L138.3,252.9L139.2,251.6L140.2,250.3L141.1,249.0L142.0,247.8L143.0,246.5L143.9,245.3L144.8,244.2L145.8,243.0L146.7,241.9L147.6,240.8L148.6,239.7L149.5,238.7L150.4,237.7L151.4,236.7L152.3,235.8L153.2,234.9L154.2,234.0L155.1,233.2L156.0,232.4L157.0,231.6L157.9,230.9L158.8,230.2L159.8,229.5L160.7,228.9L161.6,228.3L162.6,227.7L163.5,227.2L164.4,226.7L165.4,226.3L166.3,225.9L167.2,225.5L168.2,225.2L169.1,224.9L170.1,224.6L171.0,224.4L171.9,224.2L172.9,224.1L173.8,224.0L174.7,224.0L175.7,224.0L176.6,224.0L177.5,224.1L178.5,224.2L179.4,224.3L180.3,224.5L181.3,224.8L182.2,225.0L183.1,225.3L184.1,225.7L185.0,226.1L185.9,226.5L186.9,227.0L187.8,227.5L188.7,228.0L189.7,228.6L190.6,229.2L191.5,229.8L192.5,230.5L193.4,231.2L194.3,232.0L195.3,232.7L196.2,233.6L197.1,234.4L198.1,235.3L199.0,236.2L199.9,237.1L200.9,238.1L201.8,239.1L202.7,240.1L203.7,241.2L204.6,242.2L205.5,243.3L206.5,244.5L207.4,245.6L208.3,246.8L209.3,248.0L210.2,249.2L211.1,250.4L212.1,251.6L213.0,251.2L213.9,250.9L214.9,250.6L215.8,250.3L216.8,250.0L217.7,249.7L218.6,249.5L219.6,249.2L220.5,249.0L221.4,248.8L222.4,248.7L223.3,248.6L224.2,248.5L225.2,248.4L226.1,248.3L227.0,248.3L228.0,248.3L228.9,248.3L229.8,248.4L230.8,248.5L231.7,248.6L232.6,248.7L233.6,248.9L234.5,249.1L235.4,249.4L236.4,249.6L237.3,249.9L238.2,250.3L239.2,250.6L240.1,251.0L241.0,251.4L242.0,251.9L242.9,252.4L243.8,252.9L244.8,253.4L245.7,254.0L246.6,254.6L247.6,255.2L248.5,255.9L249.4,256.6L250.4,257.3L251.3,258.1L252.2,258.8L253.2,259.6L254.1,260.5L255.0,261.3L256.0,262.2L256.9,263.1L257.8,264.1L258.8,265.0L259.7,266.0L260.6,267.0L261.6,268.1L262.5,269.1L263.4,270.2L264.4,271.3L265.3,272.4L266.3,273.5L267.2,274.7L268.1,275.9L269.1,277.0L270.0,278.2L270.9,279.5L271.9,280.7L272.8,281.9L273.7,283.2L274.7,284.5L275.6,285.7L276.5,287.0L277.5,288.3L278.4,289.6L279.3,290.9L280.3,292.3L281.2,293.6L282.1,294.9L283.1,296.2L284.0,297.5L284.9,298.9L285.9,300.2L286.8,301.5L287.7,300.9L288.7,300.2L289.6,299.5L290.5,298.8L291.5,298.0L292.4,297.3L293.3,296.5L294.3,295.7L295.2,294.8L296.1,293.9L297.1,293.1L298.0,292.2L298.9,291.2L299.9,290.3L300.8,289.3L301.7,288.3L302.7,287.3L303.6,286.3L304.5,285.3L305.5,284.2L306.4,283.2L307.3,282.1L308.3,281.0L309.2,279.9L310.1,278.8L311.1,277.7L312.0,276.6L313.0,275.5L313.9,274.4L314.8,273.2L315.8,272.1L316.7,270.9L317.6,269.8L318.6,268.6L319.5,267.4L320.4,266.3L321.4,265.1L322.3,263.9L323.2,262.8L324.2,261.6L325.1,260.4L326.0,259.3L327.0,258.1L327.9,257.0L328.8,255.8L329.8,254.7L330.7,253.5L331.6,252.4L332.6,251.2L333.5,250.1L334.4,249.0L335.4,247.9L336.3,246.8L337.2,245.7L338.2,244.6L339.1,243.5L340.0,242.4L341.0,241.4L341.9,240.3L342.8,239.3L343.8,238.3L344.7,237.3L345.6,236.3L346.6,235.3L347.5,234.3L348.4,233.4L349.4,232.4L350.3,231.5L351.2,230.6L352.2,229.7L353.1,228.8L354.0,227.9L355.0,227.1L355.9,226.2L356.9,225.4L357.8,224.6L358.7,223.8L359.7,223.1L360.6,222.3L361.5,221.6L362.5,220.9L363.4,220.2L364.3,219.5L365.3,218.9L366.2,218.2L367.1,217.6L368.1,217.0L369.0,216.5L369.9,215.9L370.9,215.4L371.8,214.9L372.7,214.4L373.7,213.9L374.6,213.5L375.5,213.0L376.5,212.6L377.4,212.3L378.3,211.9L379.3,211.6L380.2,211.2L381.1,211.0L382.1,210.7L383.0,210.4L383.9,210.2L384.9,210.0L385.8,209.8L386.7,209.6L387.7,209.5L388.6,209.4L389.5,209.3L390.5,209.2L391.4,209.1L392.3,209.1L393.3,209.1L394.2,209.1L395.1,209.1L396.1,209.2L397.0,209.3L397.9,209.3L398.9,209.5L399.8,209.6L400.7,209.7L401.7,209.9L402.6,210.1L403.6,210.3L404.5,210.6L405.4,210.8L406.4,211.1L407.3,211.4L408.2,211.7L409.2,212.0L410.1,212.3L411.0,212.7L412.0,213.1L412.9,213.5L413.8,213.9L414.8,214.3L415.7,214.7L416.6,215.2L417.6,215.7L418.5,216.1L419.4,216.6L420.4,217.1L421.3,217.7L422.2,218.2L423.2,218.7L424.1,219.3L425.0,219.8L426.0,220.4L426.9,221.0L427.8,221.6L428.8,222.1L429.7,222.7L430.6,223.3L431.6,223.9L432.5,224.6L433.4,225.2L434.4,225.8L435.3,226.4L436.2,227.0L437.2,225.6L438.1,224.2L439.0,222.9L440.0,221.6L440.9,220.3L441.8,219.0L442.8,217.8L443.7,216.6L444.6,215.4L445.6,214.3L446.5,213.2L447.4,212.1L448.4,211.1L449.3,210.0L450.2,209.1L451.2,208.1L452.1,207.2L453.1,206.3L454.0,205.5L454.9,204.7L455.9,203.9L456.8,203.2L457.7,202.5L458.7,201.9L459.6,201.3L460.5,200.7L461.5,200.2L462.4,199.7L463.3,199.2L464.3,198.8L465.2,198.5L466.1,198.1L467.1,197.8L468.0,197.6L468.9,197.4L469.9,197.2L470.8,197.1L471.7,197.0L472.7,197.0L473.6,197.0L474.5,197.0L475.5,197.1L476.4,197.2L477.3,197.4L478.3,197.6L479.2,197.8L480.1,198.1L481.1,198.4L482.0,198.8L482.9,199.2L483.9,199.6L484.8,200.1L485.7,200.6L486.7,201.2L487.6,201.8L488.5,202.4L489.5,203.1L490.4,203.8L491.3,204.5L492.3,205.3L493.2,206.1L494.1,207.0L495.1,207.8L496.0,208.7L496.9,209.7L497.9,210.7L498.8,211.7L499.8,212.7L500.7,213.8L501.6,214.9L502.6,216.0L503.5,217.2L504.4,218.3L505.4,219.5L506.3,220.8L507.2,222.0L508.2,223.3L509.1,224.6L510.0,225.9L511.3,227.0L511.9,226.6L512.8,225.8L513.8,225.1L514.7,224.4L515.6,223.7L516.6,223.0L517.5,222.3L518.4,221.5L519.4,220.8L520.3,220.1L521.2,219.4L522.2,218.7L523.1,217.9L524.0,217.2L525.0,216.5L525.9,215.8L526.8,215.1L527.8,214.4L528.7,213.7L529.6,213.0L530.6,212.4L531.5,211.7L532.4,211.1L533.4,210.4L534.3,209.8L535.2,209.1L536.2,208.5L537.1,207.9L538.0,207.3L539.0,206.7L539.9,206.2L540.8,205.6L541.8,205.1L542.7,204.5L543.6,204.0L544.6,203.5L545.5,203.1L546.5,202.6L547.4,202.1L548.3,201.7L549.3,201.3L550.2,200.9L551.1,200.5L552.1,200.1L553.0,199.8L553.9,199.4L554.9,199.1L555.8,198.8L556.7,198.6L557.7,198.3L558.6,198.1L559.5,197.8L560.5,197.6L561.4,197.5L562.3,197.3L563.3,197.2L564.2,197.1L565.1,197.0L566.1,196.9L567.0,196.8L567.9,196.8L568.9,196.8L569.8,196.8L570.7,196.8L571.7,196.9L572.6,197.0L573.5,197.1L574.5,197.2L575.4,197.3L576.3,197.5L577.3,197.7L578.2,197.9L579.1,198.1L580.1,198.4L581.0,198.6L581.9,198.9L582.9,199.3L583.8,199.6L584.7,200.0L585.7,200.4L586.6,200.8L587.5,201.2L588.5,201.7L589.4,202.1L590.3,202.7L591.3,203.2L592.2,203.7L593.2,204.3L594.1,204.9L595.0,205.5L596.0,206.1L596.9,206.8L597.8,207.5L598.8,208.2L599.7,208.9L600.6,209.7L601.6,210.4L602.5,211.2L603.4,212.1L604.4,212.9L605.3,213.8L606.2,214.6L607.2,215.5L608.1,216.5L609.0,217.4L610.0,218.4L610.9,219.4L611.8,220.4L612.8,221.4L613.7,222.4L614.6,223.5L615.6,224.6L616.5,225.7L617.4,226.8L618.4,228.0L619.3,229.1L620.2,230.3L621.2,231.5L622.1,232.8L623.0,234.0L624.0,235.3L624.9,236.5L625.8,237.8L626.8,239.1L627.7,240.5L628.6,241.8L629.6,243.2L630.5,244.5L631.4,245.9L632.4,247.3L633.3,248.8L634.2,250.2L635.2,251.6L636.1,253.1L637.0,254.6L638.0,256.1L638.9,257.6L639.9,259.1L640.8,260.6L641.7,262.2L642.7,263.7L643.6,265.3L644.5,266.9L645.5,268.4L646.4,270.0L647.3,271.6L648.3,273.2L649.2,274.9L650.1,276.5L651.1,278.1L652.0,279.8L652.9,281.4L653.9,283.0L654.8,284.7L655.7,286.4L656.7,288.0L657.6,289.7L658.5,291.4L659.5,293.0L660.4,294.7" fill="none" stroke="#772bff" stroke-width="1.15"/>
<path d="M100.0,264.7L100.9,264.4L101.9,264.2L102.8,264.0L103.7,263.8L104.7,263.5L105.6,263.3L106.5,263.0L107.5,262.8L108.4,262.6L109.3,262.3L110.3,262.1L111.2,261.8L112.1,261.6L113.1,261.3L114.0,261.1L114.9,260.8L115.9,260.5L116.8,260.3L117.7,260.0L118.7,259.8L119.6,259.5L120.5,259.2L121.5,259.0L122.4,258.7L123.3,258.4L124.3,258.1L125.2,257.9L126.2,257.6L127.1,257.3L128.0,257.0L129.0,256.7L129.9,256.5L130.8,256.2L131.8,255.9L132.7,255.6L133.6,255.3L134.6,255.0L135.5,254.8L136.4,254.5L137.4,254.2L138.3,253.9L139.2,253.6L140.2,253.4L141.1,253.1L142.0,252.8L143.0,252.5L143.9,252.2L144.8,252.0L145.8,251.7L146.7,251.4L147.6,251.2L148.6,250.9L149.5,250.6L150.4,250.4L151.4,250.1L152.3,249.9L153.2,249.6L154.2,249.4L155.1,249.1L156.0,248.9L157.0,248.6L157.9,248.4L158.8,248.2L159.8,248.0L160.7,247.8L161.6,247.6L162.6,247.4L163.5,247.2L164.4,247.0L165.4,246.8L166.3,246.6L167.2,246.5L168.2,246.3L169.1,246.1L170.1,246.0L171.0,245.9L171.9,245.7L172.9,245.6L173.8,245.5L174.7,245.4L175.7,245.3L176.6,245.3L177.5,245.2L178.5,245.1L179.4,245.1L180.3,245.0L181.3,245.0L182.2,245.0L183.1,245.0L184.1,245.0L185.0,245.0L185.9,245.1L186.9,245.1L187.8,245.2L188.7,245.3L189.7,245.3L190.6,245.4L191.5,245.5L192.5,245.7L193.4,245.8L194.3,246.0L195.3,246.1L196.2,246.3L197.1,246.5L198.1,246.7L199.0,246.9L199.9,247.2L200.9,247.4L201.8,247.7L202.7,248.0L203.7,248.3L204.6,248.6L205.5,248.9L206.5,249.2L207.4,249.6L208.3,250.0L209.3,250.4L210.2,250.8L211.1,251.2L212.1,251.6L213.0,252.0L213.9,252.5L214.9,253.0L215.8,253.5L216.8,254.0L217.7,254.5L218.6,255.0L219.6,255.5L220.5,256.1L221.4,256.6L222.4,257.2L223.3,257.8L224.2,258.4L225.2,259.0L226.1,259.6L227.0,260.3L228.0,260.9L228.9,261.5L229.8,262.2L230.8,262.9L231.7,263.5L232.6,264.2L233.6,264.9L234.5,265.6L235.4,266.3L236.4,267.0L237.3,267.7L238.2,268.5L239.2,269.2L240.1,269.9L241.0,270.7L242.0,271.4L242.9,272.1L243.8,272.9L244.8,273.6L245.7,274.4L246.6,275.1L247.6,275.9L248.5,276.6L249.4,277.4L250.4,278.1L251.3,278.9L252.2,279.6L253.2,280.4L254.1,281.1L255.0,281.8L256.0,282.6L256.9,283.3L257.8,284.0L258.8,284.7L259.7,285.4L260.6,286.1L261.6,286.8L262.5,287.5L263.4,288.2L264.4,288.9L265.3,289.5L266.3,290.2L267.2,290.8L268.1,291.5L269.1,292.1L270.0,292.7L270.9,293.3L271.9,293.9L272.8,294.5L273.7,295.1L274.7,295.6L275.6,296.2L276.5,296.7L277.5,297.2L278.4,297.7L279.3,298.2L280.3,298.7L281.2,299.1L282.1,299.6L283.1,300.0L284.0,300.4L284.9,300.8L285.9,301.1L286.8,301.5L287.7,301.8L288.7,302.2L289.6,302.5L290.5,302.8L291.5,303.0L292.4,303.3L293.3,303.5L294.3,303.7L295.2,303.9L296.1,304.1L297.1,304.3L298.0,304.4L298.9,304.6L299.9,304.7L300.8,304.8L301.7,304.8L302.7,304.9L303.6,304.9L304.5,305.0L305.5,305.0L306.4,305.0L307.3,304.9L308.3,304.9L309.2,304.8L310.1,304.7L311.1,304.6L312.0,304.5L313.0,304.4L313.9,304.2L314.8,304.1L315.8,303.9L316.7,303.7L317.6,303.5L318.6,303.3L319.5,303.0L320.4,302.8L321.4,302.5L322.3,302.2L323.2,301.9L324.2,301.6L325.1,301.3L326.0,300.9L327.0,300.6L327.9,300.2L328.8,299.8L329.8,299.4L330.7,299.0L331.6,298.6L332.6,298.1L333.5,297.7L334.4,297.2L335.4,296.8L336.3,296.3L337.2,295.8L338.2,295.3L339.1,294.8L340.0,294.2L341.0,293.7L341.9,293.1L342.8,292.6L343.8,292.0L344.7,291.4L345.6,290.9L346.6,290.3L347.5,289.7L348.4,289.0L349.4,288.4L350.3,287.8L351.2,287.2L352.2,286.5L353.1,285.9L354.0,285.2L355.0,284.5L355.9,283.9L356.9,283.2L357.8,282.5L358.7,281.8L359.7,281.1L360.6,280.4L361.5,279.7L362.5,279.0L363.4,278.3L364.3,277.6L365.3,276.8L366.2,276.1L367.1,275.4L368.1,274.6L369.0,273.9L369.9,273.2L370.9,272.4L371.8,271.7L372.7,270.9L373.7,270.2L374.6,269.4L375.5,268.7L376.5,267.9L377.4,267.2L378.3,266.4L379.3,265.6L380.2,264.9L381.1,264.1L382.1,263.4L383.0,262.6L383.9,261.9L384.9,261.1L385.8,260.3L386.7,259.6L387.7,258.8L388.6,258.1L389.5,257.3L390.5,256.6L391.4,255.8L392.3,255.1L393.3,254.4L394.2,253.6L395.1,252.9L396.1,252.2L397.0,251.4L397.9,250.7L398.9,250.0L399.8,249.3L400.7,248.6L401.7,247.9L402.6,247.2L403.6,246.5L404.5,245.8L405.4,245.1L406.4,244.5L407.3,243.8L408.2,243.1L409.2,242.5L410.1,241.8L411.0,241.2L412.0,240.5L412.9,239.9L413.8,239.3L414.8,238.7L415.7,238.1L416.6,237.5L417.6,236.9L418.5,236.3L419.4,235.7L420.4,235.2L421.3,234.6L422.2,234.0L423.2,233.5L424.1,233.0L425.0,232.5L426.0,232.0L426.9,231.5L427.8,231.0L428.8,230.5L429.7,230.0L430.6,229.5L431.6,229.1L432.5,228.7L433.4,228.2L434.4,227.8L435.3,227.4L436.2,227.0L437.2,226.6L438.1,226.2L439.0,225.9L440.0,225.5L440.9,225.2L441.8,224.8L442.8,224.5L443.7,224.2L444.6,223.9L445.6,223.6L446.5,223.3L447.4,223.1L448.4,222.8L449.3,222.6L450.2,222.3L451.2,222.1L452.1,221.9L453.1,221.7L454.0,221.5L454.9,221.3L455.9,221.1L456.8,221.0L457.7,220.8L458.7,220.7L459.6,220.6L460.5,220.4L461.5,220.3L462.4,220.2L463.3,220.1L464.3,220.1L465.2,220.0L466.1,219.9L467.1,219.9L468.0,219.8L468.9,219.8L469.9,219.8L470.8,219.8L471.7,219.8L472.7,219.8L473.6,219.8L474.5,219.8L475.5,219.9L476.4,219.9L477.3,220.0L478.3,220.0L479.2,220.1L480.1,220.2L481.1,220.3L482.0,220.4L482.9,220.5L483.9,220.6L484.8,220.7L485.7,220.9L486.7,221.0L487.6,221.2L488.5,221.3L489.5,221.5L490.4,221.6L491.3,221.8L492.3,222.0L493.2,222.2L494.1,222.4L495.1,222.6L496.0,222.8L496.9,223.1L497.9,223.3L498.8,223.5L499.8,223.8L500.7,224.0L501.6,224.3L502.6,224.6L503.5,224.8L504.4,225.1L505.4,225.4L506.3,225.7L507.2,226.0L508.2,226.3L509.1,226.6L510.0,226.9L511.3,227.4L511.9,227.6L512.8,227.9L513.8,228.3L514.7,228.6L515.6,229.0L516.6,229.3L517.5,229.7L518.4,230.0L519.4,230.4L520.3,230.8L521.2,231.2L522.2,231.6L523.1,232.0L524.0,232.4L525.0,232.8L525.9,233.2L526.8,233.6L527.8,234.0L528.7,234.4L529.6,234.8L530.6,235.3L531.5,235.7L532.4,236.1L533.4,236.6L534.3,237.0L535.2,237.5L536.2,237.9L537.1,238.4L538.0,238.8L539.0,239.3L539.9,239.7L540.8,240.2L541.8,240.7L542.7,241.1L543.6,241.6L544.6,242.1L545.5,242.6L546.5,243.0L547.4,243.5L548.3,244.0L549.3,244.5L550.2,245.0L551.1,245.5L552.1,246.0L553.0,246.4L553.9,246.9L554.9,247.4L555.8,247.9L556.7,248.4L557.7,248.9L558.6,249.4L559.5,249.9L560.5,250.4L561.4,251.0L562.3,251.5L563.3,252.0L564.2,252.5L565.1,253.0L566.1,253.5L567.0,254.0L567.9,254.5L568.9,255.0L569.8,255.5L570.7,256.0L571.7,256.5L572.6,257.1L573.5,257.6L574.5,258.1L575.4,258.6L576.3,259.1L577.3,259.6L578.2,260.1L579.1,260.6L580.1,261.1L581.0,261.6L581.9,262.1L582.9,262.6L583.8,263.1L584.7,263.6L585.7,264.1L586.6,264.6L587.5,265.1L588.5,265.6L589.4,266.1L590.3,266.6L591.3,267.1L592.2,267.6L593.2,268.1L594.1,268.6L595.0,269.1L596.0,269.6L596.9,270.0L597.8,270.5L598.8,271.0L599.7,271.5L600.6,271.9L601.6,272.4L602.5,272.9L603.4,273.4L604.4,273.8L605.3,274.3L606.2,274.7L607.2,275.2L608.1,275.6L609.0,276.1L610.0,276.5L610.9,277.0L611.8,277.4L612.8,277.9L613.7,278.3L614.6,278.7L615.6,279.2L616.5,279.6L617.4,280.0L618.4,280.4L619.3,280.8L620.2,281.3L621.2,281.7L622.1,282.1L623.0,282.5L624.0,282.9L624.9,283.3L625.8,283.6L626.8,284.0L627.7,284.4L628.6,284.8L629.6,285.2L630.5,285.5L631.4,285.9L632.4,286.2L633.3,286.6L634.2,286.9L635.2,287.3L636.1,287.6L637.0,288.0L638.0,288.3L638.9,288.6L639.9,288.9L640.8,289.3L641.7,289.6L642.7,289.9L643.6,290.2L644.5,290.5L645.5,290.8L646.4,291.0L647.3,291.3L648.3,291.6L649.2,291.9L650.1,292.1L651.1,292.4L652.0,292.7L652.9,292.9L653.9,293.1L654.8,293.4L655.7,293.6L656.7,293.8L657.6,294.1L658.5,294.3L659.5,294.5L660.4,294.7" fill="none" stroke="#772bff" stroke-width="2.2"/>
<path d="M100.3,321.7L101.4,320.9L102.5,320.0L103.7,319.0L104.8,317.8L105.9,316.6L107.0,315.3L108.2,313.8L109.3,312.3L110.4,310.7L111.5,309.0L112.6,307.2L113.8,305.3L114.9,303.4L116.0,301.3L117.1,299.2L118.3,297.1L119.4,294.9L120.5,292.6L121.6,290.3L122.7,287.9L123.9,285.4L125.0,283.0L126.1,280.5L127.2,277.9L128.4,275.4L129.5,272.8L130.6,270.1L131.7,267.5L132.9,264.9L134.0,262.2L135.1,259.5L136.2,256.9L137.3,254.2L138.5,251.6L139.6,248.9L140.7,246.3L141.8,243.7L143.0,241.1L144.1,238.6L145.2,236.1L146.3,233.6L147.4,231.2L148.6,228.8L149.7,226.4L150.8,224.2L151.9,221.9L153.1,219.8L154.2,217.7L155.3,215.7L156.4,213.7L157.5,211.9L158.7,210.1L159.8,208.4L160.9,206.9L162.0,205.4L163.2,204.0L164.3,202.7L165.4,201.5L166.5,200.5L167.6,199.5L168.8,198.7L169.9,198.0L171.0,197.4L172.1,196.9L173.3,196.6L174.4,196.4L175.5,196.4L176.6,196.5L177.7,196.7L178.9,197.1L180.0,197.6L181.1,198.3L182.2,199.1L183.4,200.1L184.5,201.1L185.6,202.4L186.7,203.7L187.9,205.2L189.0,206.7L190.1,208.4L191.2,210.2L192.3,212.1L193.5,214.0L194.6,216.0L195.7,218.1L196.8,220.2L198.0,222.3L199.1,224.5L200.2,226.8L201.3,229.0L202.4,231.3L203.6,233.6L204.7,236.0L205.8,238.3L206.9,240.7L208.1,243.1L209.2,245.4L210.3,247.8L211.4,250.2L212.5,252.6L213.7,255.0L214.8,257.5L215.9,259.9L217.0,262.2L218.2,264.6L219.3,267.0L220.4,269.4L221.5,271.7L222.6,274.0L223.8,276.3L224.9,278.5L226.0,280.7L227.1,282.9L228.3,285.0L229.4,287.1L230.5,289.1L231.6,291.1L232.7,293.0L233.9,294.8L235.0,296.6L236.1,298.3L237.2,300.0L238.4,301.5L239.5,303.0L240.6,304.5L241.7,305.8L242.9,307.1L244.0,308.4L245.1,309.5L246.2,310.6L247.3,311.6L248.5,312.6L249.6,313.4L250.7,314.2L251.8,314.9L253.0,315.6L254.1,316.2L255.2,316.7L256.3,317.1L257.4,317.5L258.6,317.8L259.7,318.0L260.8,318.2L261.9,318.2L263.1,318.3L264.2,318.2L265.3,318.0L266.4,317.8L267.5,317.6L268.7,317.2L269.8,316.8L270.9,316.3L272.0,315.7L273.2,315.1L274.3,314.4L275.4,313.6L276.5,312.7L277.6,311.8L278.8,310.8L279.9,309.7L281.0,308.6L282.1,307.3L283.3,306.0L284.4,304.7L285.5,303.3L286.6,301.8L287.7,300.2L288.9,298.5L290.0,296.8L291.1,295.0L292.2,293.2L293.4,291.2L294.5,289.2L295.6,287.1L296.7,284.9L297.9,282.7L299.0,280.3L300.1,277.9L301.2,275.3L302.3,272.7L303.5,270.0L304.6,267.1L305.7,264.2L306.8,261.2L308.0,258.1L309.1,254.9L310.2,251.7L311.3,248.4L312.4,245.0L313.6,241.6L314.7,238.1L315.8,234.7L316.9,231.1L318.1,227.6L319.2,224.0L320.3,220.5L321.4,216.9L322.5,213.4L323.7,209.8L324.8,206.3L325.9,202.7L327.0,199.2L328.2,195.7L329.3,192.2L330.4,188.7L331.5,185.3L332.6,181.8L333.8,178.4L334.9,174.9L336.0,171.5L337.1,168.1L338.3,164.8L339.4,161.4L340.5,158.2L341.6,154.9L342.7,151.8L343.9,148.8L345.0,145.8L346.1,143.0L347.2,140.3L348.4,137.8L349.5,135.5L350.6,133.3L351.7,131.2L352.9,129.4L354.0,127.7L355.1,126.2L356.2,124.9L357.3,123.8L358.5,122.8L359.6,122.0L360.7,121.3L361.8,120.8L363.0,120.5L364.1,120.2L365.2,120.1L366.3,120.1L367.4,120.3L368.6,120.5L369.7,120.8L370.8,121.3L371.9,121.8L373.1,122.5L374.2,123.2L375.3,124.1L376.4,125.2L377.5,126.3L378.7,127.6L379.8,129.1L380.9,130.7L382.0,132.4L383.2,134.3L384.3,136.3L385.4,138.4L386.5,140.7L387.6,143.0L388.8,145.5L389.9,148.0L391.0,150.6L392.1,153.2L393.3,155.9L394.4,158.6L395.5,161.3L396.6,164.0L397.7,166.7L398.9,169.4L400.0,172.0L401.1,174.6L402.2,177.1L403.4,179.6L404.5,182.0L405.6,184.4L406.7,186.6L407.8,188.8L409.0,190.9L410.1,193.0L411.2,195.0L412.3,196.9L413.5,198.8L414.6,200.6L415.7,202.4L416.8,204.1L418.0,205.8L419.1,207.4L420.2,209.1L421.3,210.6L422.4,212.2L423.6,213.7L424.7,215.1L425.8,216.5L426.9,217.9L428.1,219.2L429.2,220.4L430.3,221.6L431.4,222.8L432.5,223.8L433.7,224.9L434.8,225.8L435.9,226.7L437.0,227.5L438.2,228.3L439.3,229.0L440.4,229.7L441.5,230.3L442.6,230.8L443.8,231.2L444.9,231.7L446.0,232.0L447.1,232.3L448.3,232.6L449.4,232.8L450.5,233.0L451.6,233.1L452.7,233.2L453.9,233.2L455.0,233.2L456.1,233.2L457.2,233.2L458.4,233.1L459.5,233.1L460.6,232.9L461.7,232.8L462.8,232.7L464.0,232.5L465.1,232.4L466.2,232.2L467.3,232.0L468.5,231.8L469.6,231.6L470.7,231.4L471.8,231.2L473.0,230.9L474.1,230.7L475.2,230.5L476.3,230.3L477.4,230.1L478.6,229.9L479.7,229.7L480.8,229.5L481.9,229.3L483.1,229.1L484.2,228.9L485.3,228.7L486.4,228.6L487.5,228.4L488.7,228.2L489.8,228.1L490.9,228.0L492.0,227.8L493.2,227.7L494.3,227.6L495.4,227.5L496.5,227.4L497.6,227.3L498.8,227.2L499.9,227.2L501.0,227.1L502.1,227.1L503.3,227.0L504.4,227.0L505.5,227.0L506.6,226.9L507.7,226.9L508.9,226.9L510.0,227.0L511.1,227.0L512.2,227.0L513.4,227.0L514.5,227.1L515.6,227.1L516.7,227.2L517.8,227.3L519.0,227.4L520.1,227.5L521.2,227.6L522.3,227.7L523.5,227.8L524.6,227.9L525.7,228.1L526.8,228.2L528.0,228.4L529.1,228.5L530.2,228.7L531.3,228.9L532.4,229.1L533.6,229.3L534.7,229.5L535.8,229.7L536.9,230.0L538.1,230.2L539.2,230.5L540.3,230.7L541.4,231.0L542.5,231.3L543.7,231.6L544.8,231.9L545.9,232.2L547.0,232.5L548.2,232.8L549.3,233.2L550.4,233.5L551.5,233.9L552.6,234.3L553.8,234.6L554.9,235.0L556.0,235.4L557.1,235.8L558.3,236.2L559.4,236.7L560.5,237.1L561.6,237.5L562.7,238.0L563.9,238.4L565.0,238.9L566.1,239.4L567.2,239.9L568.4,240.4L569.5,240.9L570.6,241.4L571.7,241.9L572.8,242.4L574.0,243.0L575.1,243.5L576.2,244.1L577.3,244.6L578.5,245.2L579.6,245.8L580.7,246.3L581.8,246.9L583.0,247.5L584.1,248.1L585.2,248.7L586.3,249.3L587.4,250.0L588.6,250.6L589.7,251.2L590.8,251.9L591.9,252.5L593.1,253.2L594.2,253.8L595.3,254.5L596.4,255.2L597.5,255.8L598.7,256.5L599.8,257.2L600.9,257.9L602.0,258.6L603.2,259.3L604.3,260.0L605.4,260.7L606.5,261.4L607.6,262.1L608.8,262.8L609.9,263.5L611.0,264.2L612.1,265.0L613.3,265.7L614.4,266.4L615.5,267.1L616.6,267.9L617.7,268.6L618.9,269.3L620.0,270.1L621.1,270.8L622.2,271.5L623.4,272.3L624.5,273.0L625.6,273.7L626.7,274.5L627.8,275.2L629.0,275.9L630.1,276.7L631.2,277.4L632.3,278.1L633.5,278.8L634.6,279.6L635.7,280.3L636.8,281.0L638.0,281.7L639.1,282.4L640.2,283.1L641.3,283.8L642.4,284.5L643.6,285.2L644.7,285.9L645.8,286.6L646.9,287.2L648.1,287.9L649.2,288.5L650.3,289.2L651.4,289.8L652.5,290.5L653.7,291.1L654.8,291.7L655.9,292.3L657.0,292.9L658.2,293.5L659.3,294.1L660.4,294.7" fill="none" stroke="#000" stroke-width="2.05" stroke-linejoin="round"/>
<circle cx="137.4" cy="254.2" r="3.7" fill="#000" stroke="#fff" stroke-width="1.8"/>
<circle cx="212.1" cy="251.6" r="3.7" fill="#000" stroke="#fff" stroke-width="1.8"/>
<circle cx="286.8" cy="301.5" r="3.7" fill="#000" stroke="#fff" stroke-width="1.8"/>
<circle cx="436.2" cy="227.0" r="3.7" fill="#000" stroke="#fff" stroke-width="1.8"/>
<circle cx="511.0" cy="227.0" r="3.7" fill="#000" stroke="#fff" stroke-width="1.8"/>
<circle cx="660.4" cy="294.7" r="3.7" fill="#000" stroke="#fff" stroke-width="1.8"/>
<line x1="72" x2="688.4" y1="356.5" y2="356.5" stroke="#4a4a4a" stroke-width="1"/>
<line x1="100.0" x2="100.0" y1="350" y2="356.5" stroke="#555" stroke-width="1"/>
<line x1="286.8" x2="286.8" y1="350" y2="356.5" stroke="#555" stroke-width="1"/>
<line x1="473.6" x2="473.6" y1="350" y2="356.5" stroke="#555" stroke-width="1"/>
<line x1="660.4" x2="660.4" y1="350" y2="356.5" stroke="#555" stroke-width="1"/>
<text x="64.7" y="156.8" font-size="14" text-anchor="end" font-family="Liberation Sans, Arial, sans-serif" fill="#444">0.66</text>
<text x="64.7" y="252.3" font-size="14" text-anchor="end" font-family="Liberation Sans, Arial, sans-serif" fill="#444">0.33</text>
<text transform="translate(21.5,197.4) rotate(-90)" font-size="14" text-anchor="middle" textLength="170.5" font-family="Liberation Sans, Arial, sans-serif" fill="#444">Score (Model Performance)</text>
<text x="72" y="28" font-size="20" font-weight="bold" textLength="402" font-family="Liberation Sans, Arial, sans-serif" fill="#000">Result from Gaussian Process (Round 1)</text>
<line x1="68" x2="688.4" y1="412.7" y2="412.7" stroke="#c8c8c8" stroke-width="2"/>
<text x="67.5" y="417.8" font-size="14" text-anchor="end" font-family="Liberation Sans, Arial, sans-serif" fill="#444">0.04</text>
<line x1="68" x2="688.4" y1="442.9" y2="442.9" stroke="#c8c8c8" stroke-width="2"/>
<text x="67.5" y="448.0" font-size="14" text-anchor="end" font-family="Liberation Sans, Arial, sans-serif" fill="#444">0.02</text>
<line x1="68" x2="688.4" y1="477.9" y2="477.9" stroke="#c8c8c8" stroke-width="2"/>
<path d="M96.5,469.4L97.4,469.8L98.3,470.1L99.3,470.4L100.2,470.7L101.2,471.0L102.1,471.3L103.0,471.5L104.0,471.8L104.9,472.0L105.9,472.2L106.8,472.3L107.7,472.5L108.7,472.6L109.6,472.8L110.6,472.9L111.5,472.9L112.4,473.0L113.4,473.1L114.3,473.1L115.2,473.1L116.2,473.2L117.1,473.2L118.1,473.2L119.0,473.2L120.0,473.2L120.9,473.2L121.8,473.2L122.8,473.2L123.7,473.2L124.7,473.2L125.6,473.2L126.5,473.2L127.5,473.2L128.4,473.2L129.3,473.2L130.3,473.2L131.2,473.2L132.2,473.2L133.1,473.2L134.1,473.2L135.0,473.2L135.9,473.2L136.9,473.2L137.8,473.2L138.8,473.2L139.7,473.2L140.6,473.2L141.6,473.2L142.5,473.2L143.4,473.2L144.4,473.2L145.3,473.2L146.3,473.2L147.2,473.2L148.2,473.2L149.1,473.2L150.0,473.2L151.0,473.2L151.9,473.2L152.9,473.1L153.8,473.1L154.7,473.1L155.7,473.1L156.6,473.0L157.6,473.0L158.5,472.9L159.4,472.8L160.4,472.8L161.3,472.7L162.2,472.6L163.2,472.6L164.1,472.5L165.1,472.5L166.0,472.4L166.9,472.4L167.9,472.3L168.8,472.3L169.8,472.3L170.7,472.2L171.7,472.2L172.6,472.2L173.5,472.2L174.5,472.2L175.4,472.3L176.4,472.3L177.3,472.4L178.2,472.4L179.2,472.5L180.1,472.5L181.1,472.6L182.0,472.7L182.9,472.7L183.9,472.8L184.8,472.9L185.8,472.9L186.7,473.0L187.6,473.0L188.6,473.1L189.5,473.1L190.4,473.1L191.4,473.2L192.3,473.2L193.3,473.2L194.2,473.2L195.2,473.2L196.1,473.2L197.0,473.2L198.0,473.2L198.9,473.2L199.9,473.2L200.8,473.2L201.7,473.2L202.7,473.2L203.6,473.2L204.6,473.2L205.5,473.2L206.4,473.2L207.4,473.2L208.3,473.2L209.2,473.2L210.2,473.2L211.1,473.2L212.1,473.2L213.0,473.2L213.9,473.2L214.9,473.2L215.8,473.2L216.8,473.2L217.7,473.2L218.7,473.2L219.6,473.2L220.5,473.2L221.5,473.2L222.4,473.2L223.4,473.2L224.3,473.2L225.2,473.2L226.2,473.2L227.1,473.2L228.1,473.2L229.0,473.2L229.9,473.2L230.9,473.2L231.8,473.2L232.8,473.2L233.7,473.2L234.6,473.2L235.6,473.2L236.5,473.2L237.4,473.2L238.4,473.2L239.3,473.2L240.3,473.2L241.2,473.2L242.2,473.2L243.1,473.2L244.0,473.2L245.0,473.2L245.9,473.2L246.9,473.2L247.8,473.2L248.7,473.2L249.7,473.2L250.6,473.2L251.6,473.2L252.5,473.2L253.4,473.2L254.4,473.2L255.3,473.2L256.2,473.2L257.2,473.2L258.1,473.2L259.1,473.2L260.0,473.2L260.9,473.2L261.9,473.2L262.8,473.2L263.8,473.2L264.7,473.2L265.7,473.2L266.6,473.2L267.5,473.2L268.5,473.2L269.4,473.2L270.4,473.2L271.3,473.2L272.2,473.2L273.2,473.2L274.1,473.2L275.1,473.2L276.0,473.2L276.9,473.2L277.9,473.2L278.8,473.2L279.8,473.2L280.7,473.2L281.6,473.2L282.6,473.2L283.5,473.2L284.4,473.2L285.4,473.2L286.3,473.2L287.3,473.2L288.2,473.2L289.2,473.2L290.1,473.2L291.0,473.2L292.0,473.2L292.9,473.2L293.9,473.2L294.8,473.2L295.7,473.2L296.7,473.2L297.6,473.2L298.6,473.2L299.5,473.2L300.4,473.2L301.4,473.2L302.3,473.2L303.2,473.2L304.2,473.2L305.1,473.2L306.1,473.2L307.0,473.2L307.9,473.2L308.9,473.2L309.8,473.2L310.8,473.2L311.7,473.2L312.7,473.2L313.6,473.2L314.5,473.2L315.5,473.2L316.4,473.2L317.4,473.2L318.3,473.2L319.2,473.2L320.2,473.2L321.1,473.2L322.1,473.2L323.0,473.2L323.9,473.2L324.9,473.2L325.8,473.2L326.8,473.2L327.7,473.2L328.6,473.2L329.6,473.2L330.5,473.2L331.4,473.1L332.4,473.1L333.3,473.1L334.3,473.1L335.2,473.1L336.2,473.1L337.1,473.0L338.0,473.0L339.0,473.0L339.9,472.9L340.9,472.9L341.8,472.8L342.7,472.8L343.7,472.7L344.6,472.7L345.6,472.6L346.5,472.5L347.4,472.5L348.4,472.4L349.3,472.3L350.2,472.2L351.2,472.1L352.1,472.0L353.1,471.9L354.0,471.8L354.9,471.7L355.9,471.6L356.8,471.5L357.8,471.4L358.7,471.2L359.6,471.1L360.6,471.0L361.5,470.8L362.5,470.7L363.4,470.6L364.4,470.4L365.3,470.3L366.2,470.1L367.2,470.0L368.1,469.8L369.1,469.7L370.0,469.5L370.9,469.4L371.9,469.2L372.8,469.1L373.8,468.9L374.7,468.8L375.6,468.6L376.6,468.5L377.5,468.4L378.4,468.2L379.4,468.1L380.3,467.9L381.3,467.8L382.2,467.7L383.1,467.6L384.1,467.4L385.0,467.3L386.0,467.2L386.9,467.1L387.9,467.0L388.8,466.9L389.7,466.8L390.7,466.8L391.6,466.7L392.6,466.6L393.5,466.6L394.4,466.5L395.4,466.5L396.3,466.5L397.2,466.4L398.2,466.4L399.1,466.4L400.1,466.4L401.0,466.4L401.9,466.4L402.9,466.5L403.8,466.5L404.8,466.6L405.7,466.6L406.6,466.7L407.6,466.8L408.5,466.9L409.5,467.0L410.4,467.1L411.4,467.2L412.3,467.3L413.2,467.5L414.2,467.6L415.1,467.8L416.1,468.0L417.0,468.1L417.9,468.3L418.9,468.5L419.8,468.7L420.8,469.0L421.7,469.2L422.6,469.4L423.6,469.7L424.5,469.9L425.4,470.2L426.4,470.5L427.3,470.7L428.3,471.0L429.2,471.3L430.1,471.6L431.1,471.9L432.0,472.2L433.0,472.6L433.9,472.9L434.9,473.2L435.8,470.9L436.7,468.6L437.7,466.3L438.6,464.1L439.6,462.0L440.5,459.9L441.4,457.9L442.4,456.0L443.3,454.1L444.2,452.2L445.2,450.4L446.1,448.7L447.1,447.1L448.0,445.5L448.9,443.9L449.9,442.5L450.8,441.1L451.8,439.7L452.7,438.4L453.6,437.2L454.6,436.0L455.5,434.9L456.5,433.9L457.4,432.9L458.4,432.0L459.3,431.2L460.2,430.4L461.2,429.7L462.1,429.1L463.1,428.5L464.0,428.0L464.9,427.5L465.9,427.1L466.8,426.8L467.8,426.5L468.7,426.3L469.6,426.2L470.6,426.1L471.5,426.1L472.4,426.2L473.4,426.3L474.3,426.5L475.3,426.7L476.2,427.0L477.1,427.4L478.1,427.8L479.0,428.3L480.0,428.8L480.9,429.4L481.9,430.1L482.8,430.8L483.7,431.6L484.7,432.4L485.6,433.3L486.6,434.2L487.5,435.3L488.4,436.3L489.4,437.4L490.3,438.6L491.2,439.8L492.2,441.1L493.1,442.4L494.1,443.8L495.0,445.2L495.9,446.7L496.9,448.2L497.8,449.8L498.8,451.4L499.7,453.1L500.6,454.8L501.6,456.5L502.5,458.3L503.5,460.2L504.4,462.0L505.4,464.0L506.3,465.9L507.2,467.9L508.2,469.9L509.1,471.9L510.4,473.2L511.0,473.0L511.9,472.6L512.9,472.2L513.8,471.8L514.8,471.4L515.7,471.0L516.6,470.5L517.6,470.1L518.5,469.7L519.5,469.3L520.4,468.9L521.3,468.5L522.3,468.0L523.2,467.6L524.1,467.2L525.1,466.9L526.0,466.5L527.0,466.1L527.9,465.7L528.9,465.3L529.8,465.0L530.7,464.6L531.7,464.3L532.6,464.0L533.6,463.6L534.5,463.3L535.4,463.0L536.4,462.7L537.3,462.4L538.2,462.2L539.2,461.9L540.1,461.6L541.1,461.4L542.0,461.2L543.0,461.0L543.9,460.7L544.8,460.6L545.8,460.4L546.7,460.2L547.7,460.0L548.6,459.9L549.5,459.8L550.5,459.6L551.4,459.5L552.4,459.4L553.3,459.3L554.2,459.3L555.2,459.2L556.1,459.1L557.1,459.1L558.0,459.1L558.9,459.1L559.9,459.1L560.8,459.1L561.8,459.1L562.7,459.2L563.6,459.2L564.6,459.3L565.5,459.3L566.5,459.4L567.4,459.5L568.3,459.6L569.3,459.7L570.2,459.9L571.2,460.0L572.1,460.2L573.0,460.3L574.0,460.5L574.9,460.7L575.9,460.9L576.8,461.1L577.7,461.3L578.7,461.5L579.6,461.7L580.6,461.9L581.5,462.2L582.4,462.4L583.4,462.7L584.3,462.9L585.2,463.2L586.2,463.4L587.1,463.7L588.1,464.0L589.0,464.3L590.0,464.6L590.9,464.9L591.8,465.1L592.8,465.4L593.7,465.7L594.7,466.0L595.6,466.3L596.5,466.6L597.5,466.9L598.4,467.2L599.4,467.5L600.3,467.8L601.2,468.1L602.2,468.4L603.1,468.6L604.1,468.9L605.0,469.2L605.9,469.5L606.9,469.7L607.8,470.0L608.8,470.2L609.7,470.5L610.6,470.7L611.6,470.9L612.5,471.1L613.5,471.3L614.4,471.5L615.3,471.7L616.3,471.8L617.2,472.0L618.2,472.2L619.1,472.3L620.0,472.4L621.0,472.5L621.9,472.6L622.9,472.7L623.8,472.8L624.7,472.9L625.7,472.9L626.6,473.0L627.6,473.0L628.5,473.1L629.4,473.1L630.4,473.1L631.3,473.2L632.3,473.2L633.2,473.2L634.1,473.2L635.1,473.2L636.0,473.2L637.0,473.2L637.9,473.2L638.8,473.2L639.8,473.2L640.7,473.2L641.7,473.2L642.6,473.2L643.5,473.2L644.5,473.2L645.4,473.2L646.4,473.2L647.3,473.2L648.2,473.2L649.2,473.2L650.1,473.2L651.1,473.2L652.0,473.2L652.9,473.2L653.9,473.2L654.8,473.2L655.8,473.2L656.7,473.2L657.6,473.2L658.6,473.2L659.5,473.2L660.5,473.2" fill="none" stroke="#2290fd" stroke-width="2" stroke-linejoin="round"/>
<line x1="96.45" x2="96.45" y1="471.7" y2="478.3" stroke="#000" stroke-width="1.1"/>
<line x1="284.45" x2="284.45" y1="471.7" y2="478.3" stroke="#000" stroke-width="1.1"/>
<line x1="472.45" x2="472.45" y1="471.7" y2="478.3" stroke="#000" stroke-width="1.1"/>
<line x1="660.45" x2="660.45" y1="471.7" y2="478.3" stroke="#000" stroke-width="1.1"/>
<text transform="translate(18.7,428.0) rotate(-90)" font-size="10" text-anchor="middle" textLength="43" font-family="Liberation Sans, Arial, sans-serif" fill="#555">Expected</text>
<text transform="translate(30.3,428.0) rotate(-90)" font-size="10" text-anchor="middle" textLength="60" font-family="Liberation Sans, Arial, sans-serif" fill="#555">Improvement</text>
<path d="M471.5,421.4 L476.2,426.1 L471.5,430.8 L466.8,426.1Z" fill="#ffd200" stroke="#3a3a3a" stroke-width="0.8"/>
<line x1="68" x2="688.4" y1="534.8" y2="534.8" stroke="#c8c8c8" stroke-width="2"/>
<text x="67.5" y="539.9" font-size="14" text-anchor="end" font-family="Liberation Sans, Arial, sans-serif" fill="#444">0.66</text>
<line x1="68" x2="688.4" y1="564.9" y2="564.9" stroke="#c8c8c8" stroke-width="2"/>
<text x="67.5" y="570.0" font-size="14" text-anchor="end" font-family="Liberation Sans, Arial, sans-serif" fill="#444">0.33</text>
<line x1="68" x2="688.4" y1="599.5" y2="599.5" stroke="#000" stroke-width="1"/>
<path d="M96.5,554.6L97.4,555.0L98.3,555.3L99.3,555.6L100.2,556.0L101.2,556.3L102.1,556.6L103.0,557.0L104.0,557.3L104.9,557.7L105.9,558.0L106.8,558.3L107.7,558.7L108.7,559.0L109.6,559.3L110.6,559.7L111.5,560.0L112.4,560.3L113.4,560.6L114.3,561.0L115.2,561.3L116.2,561.6L117.1,561.9L118.1,562.2L119.0,562.6L120.0,562.9L120.9,563.2L121.8,563.5L122.8,563.8L123.7,564.1L124.7,564.4L125.6,564.7L126.5,564.9L127.5,565.2L128.4,565.5L129.3,565.8L130.3,566.1L131.2,566.3L132.2,566.6L133.1,566.8L134.1,567.1L135.0,566.7L135.9,566.2L136.9,565.8L137.8,565.4L138.8,565.0L139.7,564.7L140.6,564.3L141.6,563.9L142.5,563.6L143.4,563.2L144.4,562.9L145.3,562.5L146.3,562.2L147.2,561.9L148.2,561.6L149.1,561.3L150.0,561.0L151.0,560.7L151.9,560.5L152.9,560.2L153.8,560.0L154.7,559.7L155.7,559.5L156.6,559.3L157.6,559.1L158.5,558.9L159.4,558.7L160.4,558.6L161.3,558.4L162.2,558.3L163.2,558.1L164.1,558.0L165.1,557.9L166.0,557.8L166.9,557.8L167.9,557.7L168.8,557.6L169.8,557.6L170.7,557.6L171.7,557.6L172.6,557.6L173.5,557.6L174.5,557.6L175.4,557.6L176.4,557.7L177.3,557.7L178.2,557.8L179.2,557.9L180.1,558.0L181.1,558.1L182.0,558.2L182.9,558.3L183.9,558.5L184.8,558.7L185.8,558.8L186.7,559.0L187.6,559.2L188.6,559.4L189.5,559.6L190.4,559.8L191.4,560.1L192.3,560.3L193.3,560.6L194.2,560.8L195.2,561.1L196.1,561.4L197.0,561.7L198.0,562.0L198.9,562.3L199.9,562.6L200.8,563.0L201.7,563.3L202.7,563.7L203.6,564.0L204.6,564.4L205.5,564.7L206.4,565.1L207.4,565.5L208.3,565.9L209.2,566.3L210.2,566.1L211.1,566.0L212.1,565.9L213.0,565.8L213.9,565.7L214.9,565.7L215.8,565.6L216.8,565.5L217.7,565.4L218.7,565.4L219.6,565.3L220.5,565.3L221.5,565.3L222.4,565.2L223.4,565.2L224.3,565.2L225.2,565.2L226.2,565.2L227.1,565.2L228.1,565.3L229.0,565.3L229.9,565.4L230.9,565.4L231.8,565.5L232.8,565.5L233.7,565.6L234.6,565.7L235.6,565.8L236.5,565.9L237.4,566.1L238.4,566.2L239.3,566.3L240.3,566.5L241.2,566.7L242.2,566.8L243.1,567.0L244.0,567.2L245.0,567.4L245.9,567.6L246.9,567.8L247.8,568.1L248.7,568.3L249.7,568.5L250.6,568.8L251.6,569.0L252.5,569.3L253.4,569.6L254.4,569.9L255.3,570.2L256.2,570.5L257.2,570.8L258.1,571.1L259.1,571.4L260.0,571.8L260.9,572.1L261.9,572.5L262.8,572.8L263.8,573.2L264.7,573.5L265.7,573.9L266.6,574.3L267.5,574.6L268.5,575.0L269.4,575.4L270.4,575.8L271.3,576.2L272.2,576.6L273.2,577.0L274.1,577.4L275.1,577.8L276.0,578.2L276.9,578.6L277.9,579.1L278.8,579.5L279.8,579.9L280.7,580.3L281.6,580.7L282.6,581.1L283.5,581.5L284.4,582.0L285.4,581.8L286.3,581.6L287.3,581.3L288.2,581.1L289.2,580.9L290.1,580.6L291.0,580.4L292.0,580.1L292.9,579.9L293.9,579.6L294.8,579.3L295.7,579.0L296.7,578.7L297.6,578.4L298.6,578.1L299.5,577.8L300.4,577.5L301.4,577.2L302.3,576.9L303.2,576.5L304.2,576.2L305.1,575.9L306.1,575.5L307.0,575.2L307.9,574.8L308.9,574.5L309.8,574.1L310.8,573.8L311.7,573.4L312.7,573.1L313.6,572.7L314.5,572.3L315.5,572.0L316.4,571.6L317.4,571.2L318.3,570.9L319.2,570.5L320.2,570.1L321.1,569.8L322.1,569.4L323.0,569.0L323.9,568.7L324.9,568.3L325.8,567.9L326.8,567.6L327.7,567.2L328.6,566.9L329.6,566.5L330.5,566.1L331.4,565.8L332.4,565.4L333.3,565.1L334.3,564.7L335.2,564.4L336.2,564.0L337.1,563.7L338.0,563.4L339.0,563.0L339.9,562.7L340.9,562.4L341.8,562.1L342.7,561.7L343.7,561.4L344.6,561.1L345.6,560.8L346.5,560.5L347.4,560.2L348.4,559.9L349.3,559.6L350.2,559.3L351.2,559.1L352.1,558.8L353.1,558.5L354.0,558.3L354.9,558.0L355.9,557.8L356.8,557.5L357.8,557.3L358.7,557.0L359.6,556.8L360.6,556.6L361.5,556.4L362.5,556.2L363.4,556.0L364.4,555.8L365.3,555.6L366.2,555.4L367.2,555.2L368.1,555.0L369.1,554.9L370.0,554.7L370.9,554.5L371.9,554.4L372.8,554.3L373.8,554.1L374.7,554.0L375.6,553.9L376.6,553.8L377.5,553.6L378.4,553.5L379.4,553.5L380.3,553.4L381.3,553.3L382.2,553.2L383.1,553.2L384.1,553.1L385.0,553.0L386.0,553.0L386.9,553.0L387.9,552.9L388.8,552.9L389.7,552.9L390.7,552.9L391.6,552.9L392.6,552.9L393.5,552.9L394.4,552.9L395.4,552.9L396.3,553.0L397.2,553.0L398.2,553.0L399.1,553.1L400.1,553.1L401.0,553.2L401.9,553.3L402.9,553.3L403.8,553.4L404.8,553.5L405.7,553.6L406.6,553.7L407.6,553.8L408.5,553.9L409.5,554.0L410.4,554.1L411.4,554.3L412.3,554.4L413.2,554.5L414.2,554.6L415.1,554.8L416.1,554.9L417.0,555.1L417.9,555.2L418.9,555.4L419.8,555.6L420.8,555.7L421.7,555.9L422.6,556.1L423.6,556.3L424.5,556.4L425.4,556.6L426.4,556.8L427.3,557.0L428.3,557.2L429.2,557.4L430.1,557.5L431.1,557.7L432.0,557.9L433.0,558.1L433.9,558.3L434.9,558.5L435.8,558.1L436.7,557.6L437.7,557.2L438.6,556.8L439.6,556.4L440.5,556.0L441.4,555.6L442.4,555.2L443.3,554.9L444.2,554.5L445.2,554.2L446.1,553.8L447.1,553.5L448.0,553.2L448.9,552.9L449.9,552.6L450.8,552.3L451.8,552.0L452.7,551.7L453.6,551.5L454.6,551.3L455.5,551.0L456.5,550.8L457.4,550.6L458.4,550.4L459.3,550.2L460.2,550.1L461.2,549.9L462.1,549.8L463.1,549.6L464.0,549.5L464.9,549.4L465.9,549.3L466.8,549.3L467.8,549.2L468.7,549.1L469.6,549.1L470.6,549.1L471.5,549.1L472.4,549.1L473.4,549.1L474.3,549.1L475.3,549.1L476.2,549.2L477.1,549.2L478.1,549.3L479.0,549.4L480.0,549.5L480.9,549.6L481.9,549.8L482.8,549.9L483.7,550.0L484.7,550.2L485.6,550.4L486.6,550.6L487.5,550.8L488.4,551.0L489.4,551.2L490.3,551.4L491.2,551.7L492.2,551.9L493.1,552.2L494.1,552.5L495.0,552.8L495.9,553.1L496.9,553.4L497.8,553.7L498.8,554.0L499.7,554.3L500.6,554.7L501.6,555.0L502.5,555.4L503.5,555.8L504.4,556.2L505.4,556.5L506.3,556.9L507.2,557.3L508.2,557.8L509.1,558.2L510.4,558.5L511.0,558.4L511.9,558.1L512.9,557.9L513.8,557.7L514.8,557.5L515.7,557.2L516.6,557.0L517.6,556.8L518.5,556.6L519.5,556.3L520.4,556.1L521.3,555.9L522.3,555.7L523.2,555.4L524.1,555.2L525.1,555.0L526.0,554.8L527.0,554.5L527.9,554.3L528.9,554.1L529.8,553.9L530.7,553.7L531.7,553.5L532.6,553.3L533.6,553.1L534.5,552.9L535.4,552.7L536.4,552.5L537.3,552.3L538.2,552.1L539.2,552.0L540.1,551.8L541.1,551.6L542.0,551.4L543.0,551.3L543.9,551.1L544.8,551.0L545.8,550.8L546.7,550.7L547.7,550.5L548.6,550.4L549.5,550.3L550.5,550.2L551.4,550.0L552.4,549.9L553.3,549.8L554.2,549.7L555.2,549.6L556.1,549.6L557.1,549.5L558.0,549.4L558.9,549.3L559.9,549.3L560.8,549.2L561.8,549.2L562.7,549.1L563.6,549.1L564.6,549.1L565.5,549.0L566.5,549.0L567.4,549.0L568.3,549.0L569.3,549.0L570.2,549.0L571.2,549.0L572.1,549.1L573.0,549.1L574.0,549.1L574.9,549.2L575.9,549.2L576.8,549.3L577.7,549.3L578.7,549.4L579.6,549.5L580.6,549.6L581.5,549.7L582.4,549.8L583.4,549.9L584.3,550.0L585.2,550.1L586.2,550.3L587.1,550.4L588.1,550.5L589.0,550.7L590.0,550.8L590.9,551.0L591.8,551.2L592.8,551.4L593.7,551.5L594.7,551.7L595.6,551.9L596.5,552.2L597.5,552.4L598.4,552.6L599.4,552.8L600.3,553.1L601.2,553.3L602.2,553.5L603.1,553.8L604.1,554.1L605.0,554.3L605.9,554.6L606.9,554.9L607.8,555.2L608.8,555.5L609.7,555.8L610.6,556.1L611.6,556.4L612.5,556.7L613.5,557.1L614.4,557.4L615.3,557.8L616.3,558.1L617.2,558.5L618.2,558.8L619.1,559.2L620.0,559.6L621.0,559.9L621.9,560.3L622.9,560.7L623.8,561.1L624.7,561.5L625.7,561.9L626.6,562.3L627.6,562.7L628.5,563.2L629.4,563.6L630.4,564.0L631.3,564.5L632.3,564.9L633.2,565.4L634.1,565.8L635.1,566.3L636.0,566.7L637.0,567.2L637.9,567.7L638.8,568.1L639.8,568.6L640.7,569.1L641.7,569.6L642.6,570.1L643.5,570.6L644.5,571.1L645.4,571.6L646.4,572.1L647.3,572.6L648.2,573.1L649.2,573.6L650.1,574.1L651.1,574.6L652.0,575.1L652.9,575.6L653.9,576.2L654.8,576.7L655.8,577.2L656.7,577.7L657.6,578.2L658.6,578.8L659.5,579.3L660.5,579.8" fill="none" stroke="#2290fd" stroke-width="2" stroke-linejoin="round"/>
<line x1="96.45" x2="96.45" y1="593.3" y2="599.9" stroke="#000" stroke-width="1.1"/>
<line x1="284.45" x2="284.45" y1="593.3" y2="599.9" stroke="#000" stroke-width="1.1"/>
<line x1="472.45" x2="472.45" y1="593.3" y2="599.9" stroke="#000" stroke-width="1.1"/>
<line x1="660.45" x2="660.45" y1="593.3" y2="599.9" stroke="#000" stroke-width="1.1"/>
<text transform="translate(18.7,549.5) rotate(-90)" font-size="10" text-anchor="middle" textLength="83.5" font-family="Liberation Sans, Arial, sans-serif" fill="#555">Upper Confidence</text>
<text transform="translate(30.3,549.5) rotate(-90)" font-size="10" text-anchor="middle" textLength="29" font-family="Liberation Sans, Arial, sans-serif" fill="#555">Bound</text>
<path d="M472.4,544.4 L477.1,549.1 L472.4,553.8 L467.8,549.1Z" fill="#ffd200" stroke="#3a3a3a" stroke-width="0.8"/>
<line x1="68" x2="688.4" y1="653.0" y2="653.0" stroke="#c8c8c8" stroke-width="2"/>
<text x="67.5" y="658.1" font-size="14" text-anchor="end" font-family="Liberation Sans, Arial, sans-serif" fill="#444">0.75</text>
<line x1="68" x2="688.4" y1="699.8" y2="699.8" stroke="#c8c8c8" stroke-width="2"/>
<text x="67.5" y="704.9" font-size="14" text-anchor="end" font-family="Liberation Sans, Arial, sans-serif" fill="#444">0.25</text>
<line x1="68" x2="688.4" y1="727.5" y2="727.5" stroke="#444" stroke-width="1"/>
<path d="M96.5,716.8L97.4,717.2L98.3,717.6L99.3,717.9L100.2,718.3L101.2,718.6L102.1,719.0L103.0,719.4L104.0,719.7L104.9,720.1L105.9,720.4L106.8,720.7L107.7,721.0L108.7,721.3L109.6,721.6L110.6,721.8L111.5,722.1L112.4,722.3L113.4,722.4L114.3,722.6L115.2,722.7L116.2,722.8L117.1,722.9L118.1,722.9L119.0,723.0L120.0,723.0L120.9,723.0L121.8,723.0L122.8,723.0L123.7,723.0L124.7,723.0L125.6,723.0L126.5,723.0L127.5,723.0L128.4,723.0L129.3,723.0L130.3,723.0L131.2,723.0L132.2,723.0L133.1,723.0L134.1,723.0L135.0,723.0L135.9,723.0L136.9,723.0L137.8,723.0L138.8,723.0L139.7,723.0L140.6,723.0L141.6,723.0L142.5,723.0L143.4,723.0L144.4,723.0L145.3,723.0L146.3,723.0L147.2,723.0L148.2,723.0L149.1,722.9L150.0,722.9L151.0,722.8L151.9,722.7L152.9,722.6L153.8,722.5L154.7,722.3L155.7,722.1L156.6,721.9L157.6,721.7L158.5,721.5L159.4,721.2L160.4,721.0L161.3,720.7L162.2,720.5L163.2,720.3L164.1,720.0L165.1,719.8L166.0,719.6L166.9,719.5L167.9,719.3L168.8,719.2L169.8,719.1L170.7,719.0L171.7,719.0L172.6,719.0L173.5,719.0L174.5,719.0L175.4,719.1L176.4,719.2L177.3,719.3L178.2,719.5L179.2,719.7L180.1,719.9L181.1,720.1L182.0,720.3L182.9,720.6L183.9,720.8L184.8,721.1L185.8,721.4L186.7,721.7L187.6,721.9L188.6,722.1L189.5,722.4L190.4,722.5L191.4,722.7L192.3,722.8L193.3,722.9L194.2,722.9L195.2,723.0L196.1,723.0L197.0,723.0L198.0,723.0L198.9,723.0L199.9,723.0L200.8,723.0L201.7,723.0L202.7,723.0L203.6,723.0L204.6,723.0L205.5,723.0L206.4,723.0L207.4,723.0L208.3,723.0L209.2,723.0L210.2,723.0L211.1,723.0L212.1,723.0L213.0,723.0L213.9,723.0L214.9,723.0L215.8,723.0L216.8,723.0L217.7,723.0L218.7,723.0L219.6,723.0L220.5,723.0L221.5,723.0L222.4,723.0L223.4,723.0L224.3,723.0L225.2,723.0L226.2,723.0L227.1,723.0L228.1,723.0L229.0,723.0L229.9,723.0L230.9,723.0L231.8,723.0L232.8,723.0L233.7,723.0L234.6,723.0L235.6,723.0L236.5,723.0L237.4,723.0L238.4,723.0L239.3,723.0L240.3,723.0L241.2,723.0L242.2,723.0L243.1,723.0L244.0,723.0L245.0,723.0L245.9,723.0L246.9,723.0L247.8,723.0L248.7,723.0L249.7,723.0L250.6,723.0L251.6,723.0L252.5,723.0L253.4,723.0L254.4,723.0L255.3,723.0L256.2,723.0L257.2,723.0L258.1,723.0L259.1,723.0L260.0,723.0L260.9,723.0L261.9,723.0L262.8,723.0L263.8,723.0L264.7,723.0L265.7,723.0L266.6,723.0L267.5,723.0L268.5,723.0L269.4,723.0L270.4,723.0L271.3,723.0L272.2,723.0L273.2,723.0L274.1,723.0L275.1,723.0L276.0,723.0L276.9,723.0L277.9,723.0L278.8,723.0L279.8,723.0L280.7,723.0L281.6,723.0L282.6,723.0L283.5,723.0L284.4,723.0L285.4,723.0L286.3,723.0L287.3,723.0L288.2,723.0L289.2,723.0L290.1,723.0L291.0,723.0L292.0,723.0L292.9,723.0L293.9,723.0L294.8,723.0L295.7,723.0L296.7,723.0L297.6,723.0L298.6,723.0L299.5,723.0L300.4,723.0L301.4,723.0L302.3,723.0L303.2,723.0L304.2,723.0L305.1,723.0L306.1,723.0L307.0,723.0L307.9,723.0L308.9,723.0L309.8,723.0L310.8,723.0L311.7,723.0L312.7,723.0L313.6,723.0L314.5,723.0L315.5,723.0L316.4,723.0L317.4,723.0L318.3,723.0L319.2,723.0L320.2,723.0L321.1,723.0L322.1,723.0L323.0,723.0L323.9,723.0L324.9,723.0L325.8,723.0L326.8,723.0L327.7,722.9L328.6,722.9L329.6,722.9L330.5,722.9L331.4,722.9L332.4,722.8L333.3,722.8L334.3,722.8L335.2,722.7L336.2,722.7L337.1,722.6L338.0,722.6L339.0,722.5L339.9,722.4L340.9,722.4L341.8,722.3L342.7,722.2L343.7,722.1L344.6,722.0L345.6,721.9L346.5,721.8L347.4,721.7L348.4,721.6L349.3,721.4L350.2,721.3L351.2,721.2L352.1,721.0L353.1,720.9L354.0,720.7L354.9,720.6L355.9,720.4L356.8,720.3L357.8,720.1L358.7,719.9L359.6,719.7L360.6,719.6L361.5,719.4L362.5,719.2L363.4,719.0L364.4,718.8L365.3,718.6L366.2,718.4L367.2,718.2L368.1,718.0L369.1,717.8L370.0,717.6L370.9,717.4L371.9,717.2L372.8,717.0L373.8,716.7L374.7,716.5L375.6,716.3L376.6,716.1L377.5,715.9L378.4,715.6L379.4,715.4L380.3,715.2L381.3,715.0L382.2,714.7L383.1,714.5L384.1,714.3L385.0,714.0L386.0,713.8L386.9,713.6L387.9,713.3L388.8,713.1L389.7,712.9L390.7,712.6L391.6,712.4L392.6,712.2L393.5,712.0L394.4,711.7L395.4,711.5L396.3,711.3L397.2,711.0L398.2,710.8L399.1,710.6L400.1,710.3L401.0,710.1L401.9,709.9L402.9,709.7L403.8,709.4L404.8,709.2L405.7,709.0L406.6,708.7L407.6,708.5L408.5,708.3L409.5,708.1L410.4,707.9L411.4,707.6L412.3,707.4L413.2,707.2L414.2,707.0L415.1,706.8L416.1,706.6L417.0,706.4L417.9,706.1L418.9,705.9L419.8,705.7L420.8,705.5L421.7,705.3L422.6,705.1L423.6,704.9L424.5,704.7L425.4,704.5L426.4,704.3L427.3,704.1L428.3,704.0L429.2,703.8L430.1,703.6L431.1,703.4L432.0,703.2L433.0,703.1L433.9,702.9L434.9,702.0L435.0,690.0L435.1,668.0L435.4,659.0L436.2,654.3L437.2,651.9L438.3,651.0L439.6,650.7L440.5,650.8L441.4,651.0L442.4,651.1L443.3,651.3L444.2,651.4L445.2,651.5L446.1,651.7L447.1,651.8L448.0,651.9L448.9,652.0L449.9,652.2L450.8,652.3L451.8,652.4L452.7,652.5L453.6,652.6L454.6,652.7L455.5,652.8L456.5,652.9L457.4,653.0L458.4,653.1L459.3,653.2L460.2,653.3L461.2,653.4L462.1,653.5L463.1,653.6L464.0,653.7L464.9,653.7L465.9,653.8L466.8,653.9L467.8,654.0L468.7,654.0L469.6,654.1L470.6,654.2L471.5,654.3L472.4,654.3L473.4,654.4L474.3,654.4L475.3,654.5L476.2,654.6L477.1,654.6L478.1,654.7L479.0,654.7L480.0,654.8L480.9,654.8L481.9,654.9L482.8,654.9L483.7,655.0L484.7,655.0L485.6,655.1L486.6,655.1L487.5,655.1L488.4,655.2L489.4,655.2L490.3,655.3L491.2,655.3L492.2,655.4L493.1,655.4L494.1,655.5L495.0,655.5L495.9,655.6L496.9,655.6L497.8,655.7L498.8,655.8L499.7,655.9L500.6,656.0L501.6,656.1L502.5,656.3L503.5,656.6L504.4,656.9L505.4,657.4L506.3,658.2L507.2,659.5L508.2,662.2L509.1,670.9L510.4,715.4L511.0,710.9L511.9,705.4L512.9,703.4L513.8,702.3L514.8,701.7L515.7,701.3L516.6,701.0L517.6,700.9L518.5,700.8L519.5,700.7L520.4,700.6L521.3,700.6L522.3,700.6L523.2,700.6L524.1,700.7L525.1,700.7L526.0,700.8L527.0,700.8L527.9,700.9L528.9,701.0L529.8,701.0L530.7,701.1L531.7,701.2L532.6,701.3L533.6,701.4L534.5,701.5L535.4,701.6L536.4,701.7L537.3,701.8L538.2,702.0L539.2,702.1L540.1,702.2L541.1,702.3L542.0,702.5L543.0,702.6L543.9,702.7L544.8,702.9L545.8,703.0L546.7,703.2L547.7,703.3L548.6,703.5L549.5,703.6L550.5,703.8L551.4,703.9L552.4,704.1L553.3,704.3L554.2,704.4L555.2,704.6L556.1,704.8L557.1,705.0L558.0,705.1L558.9,705.3L559.9,705.5L560.8,705.7L561.8,705.9L562.7,706.1L563.6,706.3L564.6,706.5L565.5,706.7L566.5,706.9L567.4,707.1L568.3,707.3L569.3,707.5L570.2,707.7L571.2,708.0L572.1,708.2L573.0,708.4L574.0,708.6L574.9,708.9L575.9,709.1L576.8,709.3L577.7,709.6L578.7,709.8L579.6,710.1L580.6,710.3L581.5,710.6L582.4,710.8L583.4,711.1L584.3,711.3L585.2,711.6L586.2,711.9L587.1,712.1L588.1,712.4L589.0,712.7L590.0,712.9L590.9,713.2L591.8,713.5L592.8,713.8L593.7,714.1L594.7,714.3L595.6,714.6L596.5,714.9L597.5,715.2L598.4,715.5L599.4,715.8L600.3,716.0L601.2,716.3L602.2,716.6L603.1,716.9L604.1,717.2L605.0,717.5L605.9,717.8L606.9,718.0L607.8,718.3L608.8,718.6L609.7,718.9L610.6,719.1L611.6,719.4L612.5,719.7L613.5,719.9L614.4,720.2L615.3,720.4L616.3,720.6L617.2,720.8L618.2,721.1L619.1,721.3L620.0,721.5L621.0,721.6L621.9,721.8L622.9,722.0L623.8,722.1L624.7,722.3L625.7,722.4L626.6,722.5L627.6,722.6L628.5,722.7L629.4,722.7L630.4,722.8L631.3,722.9L632.3,722.9L633.2,722.9L634.1,722.9L635.1,723.0L636.0,723.0L637.0,723.0L637.9,723.0L638.8,723.0L639.8,723.0L640.7,723.0L641.7,723.0L642.6,723.0L643.5,723.0L644.5,723.0L645.4,723.0L646.4,723.0L647.3,723.0L648.2,723.0L649.2,723.0L650.1,723.0L651.1,723.0L652.0,723.0L652.9,723.0L653.9,723.0L654.8,723.0L655.8,723.0L656.7,723.0L657.6,723.0L658.6,723.0L659.5,723.0L660.5,723.0" fill="none" stroke="#2290fd" stroke-width="2" stroke-linejoin="round"/>
<line x1="96.45" x2="96.45" y1="721.3" y2="727.9" stroke="#000" stroke-width="1.1"/>
<line x1="284.45" x2="284.45" y1="721.3" y2="727.9" stroke="#000" stroke-width="1.1"/>
<line x1="472.45" x2="472.45" y1="721.3" y2="727.9" stroke="#000" stroke-width="1.1"/>
<line x1="660.45" x2="660.45" y1="721.3" y2="727.9" stroke="#000" stroke-width="1.1"/>
<text transform="translate(18.7,674.0) rotate(-90)" font-size="10" text-anchor="middle" textLength="48.5" font-family="Liberation Sans, Arial, sans-serif" fill="#555">Probability</text>
<text transform="translate(30.3,674.0) rotate(-90)" font-size="10" text-anchor="middle" textLength="74" font-family="Liberation Sans, Arial, sans-serif" fill="#555">Of Improvement</text>
<path d="M438.3,646.3 L443.0,651.0 L438.3,655.7 L433.6,651.0Z" fill="#ffd200" stroke="#3a3a3a" stroke-width="0.8"/>
<text x="96.5" y="747" font-size="14" text-anchor="middle" font-family="Liberation Sans, Arial, sans-serif" fill="#444">0</text>
<text x="284.4" y="747" font-size="14" text-anchor="middle" font-family="Liberation Sans, Arial, sans-serif" fill="#444">5</text>
<text x="472.4" y="747" font-size="14" text-anchor="middle" font-family="Liberation Sans, Arial, sans-serif" fill="#444">10</text>
<text x="660.5" y="747" font-size="14" text-anchor="middle" font-family="Liberation Sans, Arial, sans-serif" fill="#444">15</text>
<text x="378.6" y="772" font-size="16" text-anchor="middle" textLength="134.5" font-family="Liberation Sans, Arial, sans-serif" fill="#444">Trees in Forest (K)</text>
</svg>
</body></html>
